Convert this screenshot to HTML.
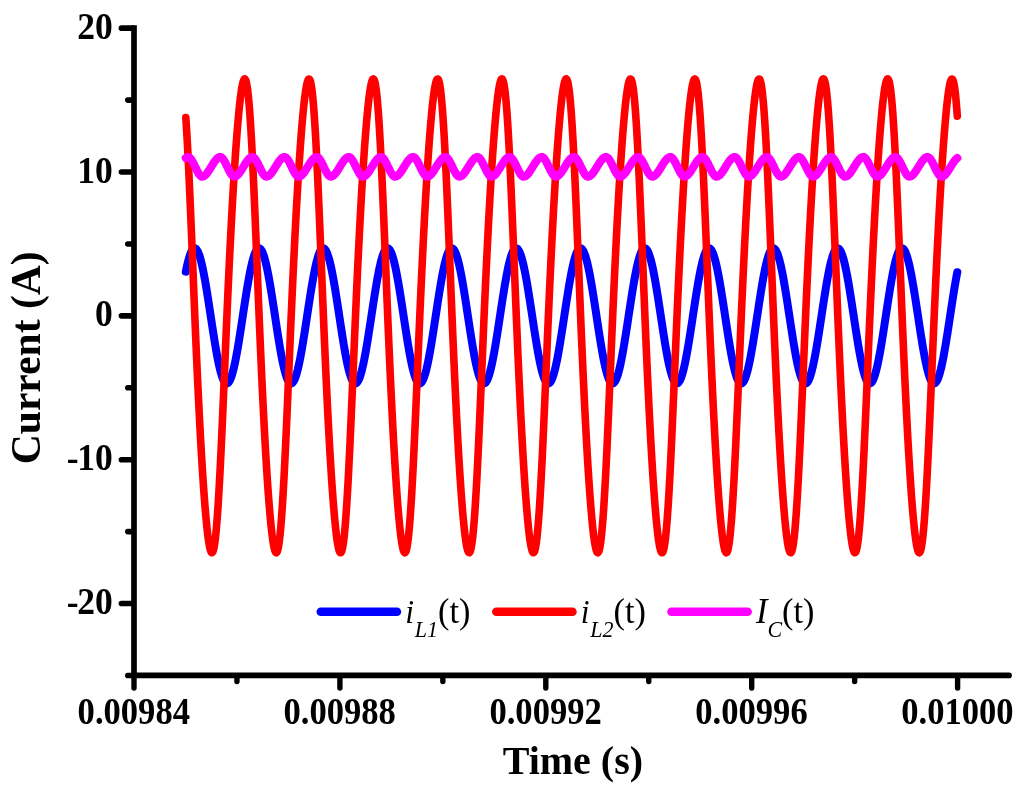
<!DOCTYPE html>
<html lang="en"><head><meta charset="utf-8"><title>Current vs Time</title>
<style>
html,body{margin:0;padding:0;background:#fff;}
body{width:1024px;height:793px;overflow:hidden;}
svg{display:block;will-change:transform;}
text{font-family:"Liberation Serif",serif;fill:#000;}
.tk{font-size:37px;font-weight:bold;}
.ttl{font-size:40px;font-weight:bold;}
.lg{font-size:36px;}
.it{font-style:italic;}
.sub{font-style:italic;font-size:23px;}
</style></head><body>
<svg width="1024" height="793" viewBox="0 0 1024 793">
<rect width="1024" height="793" fill="#fff"/>
<g><path d="M185.8,271.7 L186.3,269.3 L186.8,266.9 L187.3,264.7 L187.8,262.6 L188.3,260.7 L188.8,258.8 L189.3,257.1 L189.8,255.5 L190.3,254.1 L190.8,252.8 L191.3,251.7 L191.8,250.8 L192.3,249.9 L192.8,249.3 L193.3,248.8 L193.8,248.4 L194.3,248.3 L194.8,248.3 L195.3,248.4 L195.8,248.7 L196.3,249.2 L196.8,249.8 L197.3,250.6 L197.8,251.5 L198.3,252.6 L198.8,253.9 L199.3,255.2 L199.8,256.8 L200.3,258.5 L200.8,260.3 L201.3,262.2 L201.8,264.3 L202.3,266.5 L202.8,268.8 L203.3,271.2 L203.8,273.8 L204.3,276.4 L204.8,279.1 L205.3,281.9 L205.8,284.8 L206.3,287.8 L206.8,290.9 L207.3,294.0 L207.8,297.1 L208.3,300.3 L208.8,303.5 L209.3,306.8 L209.8,310.1 L210.3,313.4 L210.8,316.7 L211.3,320.0 L211.8,323.3 L212.3,326.5 L212.8,329.8 L213.3,333.0 L213.8,336.2 L214.3,339.3 L214.8,342.4 L215.3,345.4 L215.8,348.3 L216.3,351.2 L216.8,353.9 L217.3,356.6 L217.8,359.2 L218.3,361.7 L218.8,364.1 L219.3,366.3 L219.8,368.5 L220.3,370.5 L220.8,372.4 L221.3,374.1 L221.8,375.7 L222.3,377.2 L222.8,378.5 L223.3,379.7 L223.8,380.7 L224.3,381.5 L224.8,382.2 L225.3,382.8 L225.8,383.2 L226.3,383.4 L226.8,383.5 L227.3,383.4 L227.8,383.1 L228.3,382.7 L228.8,382.1 L229.3,381.4 L229.8,380.5 L230.3,379.4 L230.8,378.2 L231.3,376.9 L231.8,375.4 L232.3,373.8 L232.8,372.0 L233.3,370.1 L233.8,368.0 L234.3,365.9 L234.8,363.6 L235.3,361.2 L235.8,358.7 L236.3,356.1 L236.8,353.4 L237.3,350.6 L237.8,347.7 L238.3,344.8 L238.8,341.8 L239.3,338.7 L239.8,335.5 L240.3,332.4 L240.8,329.1 L241.3,325.9 L241.8,322.6 L242.3,319.3 L242.8,316.0 L243.3,312.7 L243.8,309.4 L244.3,306.1 L244.8,302.9 L245.3,299.7 L245.8,296.5 L246.3,293.3 L246.8,290.2 L247.3,287.2 L247.8,284.3 L248.3,281.4 L248.8,278.6 L249.3,275.9 L249.8,273.3 L250.3,270.7 L250.8,268.3 L251.3,266.0 L251.8,263.9 L252.3,261.8 L252.8,259.9 L253.3,258.1 L253.8,256.5 L254.3,255.0 L254.8,253.6 L255.3,252.4 L255.8,251.3 L256.3,250.4 L256.8,249.7 L257.3,249.1 L257.8,248.6 L258.3,248.4 L258.8,248.2 L259.3,248.3 L259.8,248.5 L260.3,248.9 L260.8,249.4 L261.3,250.1 L261.8,250.9 L262.3,251.9 L262.8,253.1 L263.3,254.4 L263.8,255.8 L264.3,257.4 L264.8,259.2 L265.3,261.0 L265.8,263.0 L266.3,265.2 L266.8,267.4 L267.3,269.8 L267.8,272.2 L268.3,274.8 L268.8,277.5 L269.3,280.2 L269.8,283.1 L270.3,286.0 L270.8,289.0 L271.3,292.1 L271.8,295.2 L272.3,298.4 L272.8,301.6 L273.3,304.8 L273.8,308.1 L274.3,311.4 L274.8,314.7 L275.3,318.0 L275.8,321.3 L276.3,324.6 L276.8,327.8 L277.3,331.1 L277.8,334.3 L278.3,337.4 L278.8,340.5 L279.3,343.6 L279.8,346.6 L280.3,349.5 L280.8,352.3 L281.3,355.0 L281.8,357.7 L282.3,360.2 L282.8,362.7 L283.3,365.0 L283.8,367.2 L284.3,369.3 L284.8,371.2 L285.3,373.1 L285.8,374.8 L286.3,376.3 L286.8,377.7 L287.3,379.0 L287.8,380.1 L288.3,381.0 L288.8,381.8 L289.3,382.5 L289.8,383.0 L290.3,383.3 L290.8,383.4 L291.3,383.4 L291.8,383.3 L292.3,383.0 L292.8,382.5 L293.3,381.8 L293.8,381.0 L294.3,380.1 L294.8,379.0 L295.3,377.7 L295.8,376.3 L296.3,374.8 L296.8,373.1 L297.3,371.2 L297.8,369.3 L298.3,367.2 L298.8,365.0 L299.3,362.7 L299.8,360.2 L300.3,357.7 L300.8,355.0 L301.3,352.3 L301.8,349.5 L302.3,346.6 L302.8,343.6 L303.3,340.5 L303.8,337.4 L304.3,334.3 L304.8,331.1 L305.3,327.8 L305.8,324.6 L306.3,321.3 L306.8,318.0 L307.3,314.7 L307.8,311.4 L308.3,308.1 L308.8,304.8 L309.3,301.6 L309.8,298.4 L310.3,295.2 L310.8,292.1 L311.3,289.0 L311.8,286.0 L312.3,283.1 L312.8,280.2 L313.3,277.5 L313.8,274.8 L314.3,272.2 L314.8,269.8 L315.3,267.4 L315.8,265.2 L316.3,263.0 L316.8,261.0 L317.3,259.2 L317.8,257.4 L318.3,255.8 L318.8,254.4 L319.3,253.1 L319.8,251.9 L320.3,250.9 L320.8,250.1 L321.3,249.4 L321.8,248.9 L322.3,248.5 L322.8,248.3 L323.3,248.2 L323.8,248.4 L324.3,248.6 L324.8,249.1 L325.3,249.7 L325.8,250.4 L326.3,251.3 L326.8,252.4 L327.3,253.6 L327.8,255.0 L328.3,256.5 L328.8,258.1 L329.3,259.9 L329.8,261.8 L330.3,263.9 L330.8,266.0 L331.3,268.3 L331.8,270.7 L332.3,273.3 L332.8,275.9 L333.3,278.6 L333.8,281.4 L334.3,284.3 L334.8,287.2 L335.3,290.2 L335.8,293.3 L336.3,296.5 L336.8,299.7 L337.3,302.9 L337.8,306.1 L338.3,309.4 L338.8,312.7 L339.3,316.0 L339.8,319.3 L340.3,322.6 L340.8,325.9 L341.3,329.1 L341.8,332.4 L342.3,335.5 L342.8,338.7 L343.3,341.8 L343.8,344.8 L344.3,347.7 L344.8,350.6 L345.3,353.4 L345.8,356.1 L346.3,358.7 L346.8,361.2 L347.3,363.6 L347.8,365.9 L348.3,368.0 L348.8,370.1 L349.3,372.0 L349.8,373.8 L350.3,375.4 L350.8,376.9 L351.3,378.2 L351.8,379.4 L352.3,380.5 L352.8,381.4 L353.3,382.1 L353.8,382.7 L354.3,383.1 L354.8,383.4 L355.3,383.5 L355.8,383.4 L356.3,383.2 L356.8,382.8 L357.3,382.2 L357.8,381.5 L358.3,380.7 L358.8,379.7 L359.3,378.5 L359.8,377.2 L360.3,375.7 L360.8,374.1 L361.3,372.4 L361.8,370.5 L362.3,368.5 L362.8,366.3 L363.3,364.1 L363.8,361.7 L364.3,359.2 L364.8,356.6 L365.3,353.9 L365.8,351.2 L366.3,348.3 L366.8,345.4 L367.3,342.4 L367.8,339.3 L368.3,336.2 L368.8,333.0 L369.3,329.8 L369.8,326.5 L370.3,323.3 L370.8,320.0 L371.3,316.7 L371.8,313.4 L372.3,310.1 L372.8,306.8 L373.3,303.5 L373.8,300.3 L374.3,297.1 L374.8,294.0 L375.3,290.9 L375.8,287.8 L376.3,284.8 L376.8,281.9 L377.3,279.1 L377.8,276.4 L378.3,273.8 L378.8,271.2 L379.3,268.8 L379.8,266.5 L380.3,264.3 L380.8,262.2 L381.3,260.3 L381.8,258.5 L382.3,256.8 L382.8,255.2 L383.3,253.9 L383.8,252.6 L384.3,251.5 L384.8,250.6 L385.3,249.8 L385.8,249.2 L386.3,248.7 L386.8,248.4 L387.3,248.3 L387.8,248.3 L388.3,248.4 L388.8,248.8 L389.3,249.3 L389.8,249.9 L390.3,250.8 L390.8,251.7 L391.3,252.8 L391.8,254.1 L392.3,255.5 L392.8,257.1 L393.3,258.8 L393.8,260.7 L394.3,262.6 L394.8,264.7 L395.3,266.9 L395.8,269.3 L396.3,271.7 L396.8,274.3 L397.3,276.9 L397.8,279.7 L398.3,282.5 L398.8,285.4 L399.3,288.4 L399.8,291.5 L400.3,294.6 L400.8,297.7 L401.3,300.9 L401.8,304.2 L402.3,307.4 L402.8,310.7 L403.3,314.0 L403.8,317.3 L404.3,320.6 L404.8,323.9 L405.3,327.2 L405.8,330.4 L406.3,333.6 L406.8,336.8 L407.3,339.9 L407.8,343.0 L408.3,346.0 L408.8,348.9 L409.3,351.7 L409.8,354.5 L410.3,357.1 L410.8,359.7 L411.3,362.2 L411.8,364.5 L412.3,366.8 L412.8,368.9 L413.3,370.9 L413.8,372.7 L414.3,374.4 L414.8,376.0 L415.3,377.4 L415.8,378.7 L416.3,379.9 L416.8,380.9 L417.3,381.7 L417.8,382.4 L418.3,382.9 L418.8,383.2 L419.3,383.4 L419.8,383.5 L420.3,383.3 L420.8,383.0 L421.3,382.6 L421.8,382.0 L422.3,381.2 L422.8,380.3 L423.3,379.2 L423.8,378.0 L424.3,376.6 L424.8,375.1 L425.3,373.4 L425.8,371.6 L426.3,369.7 L426.8,367.6 L427.3,365.4 L427.8,363.1 L428.3,360.7 L428.8,358.2 L429.3,355.6 L429.8,352.8 L430.3,350.0 L430.8,347.1 L431.3,344.2 L431.8,341.1 L432.3,338.1 L432.8,334.9 L433.3,331.7 L433.8,328.5 L434.3,325.2 L434.8,322.0 L435.3,318.7 L435.8,315.4 L436.3,312.1 L436.8,308.8 L437.3,305.5 L437.8,302.2 L438.3,299.0 L438.8,295.8 L439.3,292.7 L439.8,289.6 L440.3,286.6 L440.8,283.7 L441.3,280.8 L441.8,278.0 L442.3,275.3 L442.8,272.7 L443.3,270.3 L443.8,267.9 L444.3,265.6 L444.8,263.4 L445.3,261.4 L445.8,259.5 L446.3,257.8 L446.8,256.2 L447.3,254.7 L447.8,253.3 L448.3,252.2 L448.8,251.1 L449.3,250.2 L449.8,249.5 L450.3,249.0 L450.8,248.6 L451.3,248.3 L451.8,248.2 L452.3,248.3 L452.8,248.6 L453.3,249.0 L453.8,249.5 L454.3,250.2 L454.8,251.1 L455.3,252.2 L455.8,253.3 L456.3,254.7 L456.8,256.2 L457.3,257.8 L457.8,259.5 L458.3,261.4 L458.8,263.4 L459.3,265.6 L459.8,267.9 L460.3,270.3 L460.8,272.7 L461.3,275.3 L461.8,278.0 L462.3,280.8 L462.8,283.7 L463.3,286.6 L463.8,289.6 L464.3,292.7 L464.8,295.8 L465.3,299.0 L465.8,302.2 L466.3,305.5 L466.8,308.8 L467.3,312.1 L467.8,315.4 L468.3,318.7 L468.8,322.0 L469.3,325.2 L469.8,328.5 L470.3,331.7 L470.8,334.9 L471.3,338.1 L471.8,341.1 L472.3,344.2 L472.8,347.1 L473.3,350.0 L473.8,352.8 L474.3,355.6 L474.8,358.2 L475.3,360.7 L475.8,363.1 L476.3,365.4 L476.8,367.6 L477.3,369.7 L477.8,371.6 L478.3,373.4 L478.8,375.1 L479.3,376.6 L479.8,378.0 L480.3,379.2 L480.8,380.3 L481.3,381.2 L481.8,382.0 L482.3,382.6 L482.8,383.0 L483.3,383.3 L483.8,383.5 L484.3,383.4 L484.8,383.2 L485.3,382.9 L485.8,382.4 L486.3,381.7 L486.8,380.9 L487.3,379.9 L487.8,378.7 L488.3,377.4 L488.8,376.0 L489.3,374.4 L489.8,372.7 L490.3,370.9 L490.8,368.9 L491.3,366.8 L491.8,364.5 L492.3,362.2 L492.8,359.7 L493.3,357.1 L493.8,354.5 L494.3,351.7 L494.8,348.9 L495.3,346.0 L495.8,343.0 L496.3,339.9 L496.8,336.8 L497.3,333.6 L497.8,330.4 L498.3,327.2 L498.8,323.9 L499.3,320.6 L499.8,317.3 L500.3,314.0 L500.8,310.7 L501.3,307.4 L501.8,304.2 L502.3,300.9 L502.8,297.7 L503.3,294.6 L503.8,291.5 L504.3,288.4 L504.8,285.4 L505.3,282.5 L505.8,279.7 L506.3,276.9 L506.8,274.3 L507.3,271.7 L507.8,269.3 L508.3,266.9 L508.8,264.7 L509.3,262.6 L509.8,260.7 L510.3,258.8 L510.8,257.1 L511.3,255.5 L511.8,254.1 L512.3,252.8 L512.8,251.7 L513.3,250.8 L513.8,249.9 L514.3,249.3 L514.8,248.8 L515.3,248.4 L515.8,248.3 L516.3,248.3 L516.8,248.4 L517.3,248.7 L517.8,249.2 L518.3,249.8 L518.8,250.6 L519.3,251.5 L519.8,252.6 L520.3,253.9 L520.8,255.2 L521.3,256.8 L521.8,258.5 L522.3,260.3 L522.8,262.2 L523.3,264.3 L523.8,266.5 L524.3,268.8 L524.8,271.2 L525.3,273.8 L525.8,276.4 L526.3,279.1 L526.8,281.9 L527.3,284.8 L527.8,287.8 L528.3,290.9 L528.8,294.0 L529.3,297.1 L529.8,300.3 L530.3,303.5 L530.8,306.8 L531.3,310.1 L531.8,313.4 L532.3,316.7 L532.8,320.0 L533.3,323.3 L533.8,326.5 L534.3,329.8 L534.8,333.0 L535.3,336.2 L535.8,339.3 L536.3,342.4 L536.8,345.4 L537.3,348.3 L537.8,351.2 L538.3,353.9 L538.8,356.6 L539.3,359.2 L539.8,361.7 L540.3,364.1 L540.8,366.3 L541.3,368.5 L541.8,370.5 L542.3,372.4 L542.8,374.1 L543.3,375.7 L543.8,377.2 L544.3,378.5 L544.8,379.7 L545.3,380.7 L545.8,381.5 L546.3,382.2 L546.8,382.8 L547.3,383.2 L547.8,383.4 L548.3,383.5 L548.8,383.4 L549.3,383.1 L549.8,382.7 L550.3,382.1 L550.8,381.4 L551.3,380.5 L551.8,379.4 L552.3,378.2 L552.8,376.9 L553.3,375.4 L553.8,373.8 L554.3,372.0 L554.8,370.1 L555.3,368.0 L555.8,365.9 L556.3,363.6 L556.8,361.2 L557.3,358.7 L557.8,356.1 L558.3,353.4 L558.8,350.6 L559.3,347.7 L559.8,344.8 L560.3,341.8 L560.8,338.7 L561.3,335.5 L561.8,332.4 L562.3,329.1 L562.8,325.9 L563.3,322.6 L563.8,319.3 L564.3,316.0 L564.8,312.7 L565.3,309.4 L565.8,306.1 L566.3,302.9 L566.8,299.7 L567.3,296.5 L567.8,293.3 L568.3,290.2 L568.8,287.2 L569.3,284.3 L569.8,281.4 L570.3,278.6 L570.8,275.9 L571.3,273.3 L571.8,270.7 L572.3,268.3 L572.8,266.0 L573.3,263.9 L573.8,261.8 L574.3,259.9 L574.8,258.1 L575.3,256.5 L575.8,255.0 L576.3,253.6 L576.8,252.4 L577.3,251.3 L577.8,250.4 L578.3,249.7 L578.8,249.1 L579.3,248.6 L579.8,248.4 L580.3,248.2 L580.8,248.3 L581.3,248.5 L581.8,248.9 L582.3,249.4 L582.8,250.1 L583.3,250.9 L583.8,251.9 L584.3,253.1 L584.8,254.4 L585.3,255.8 L585.8,257.4 L586.3,259.2 L586.8,261.0 L587.3,263.0 L587.8,265.2 L588.3,267.4 L588.8,269.8 L589.3,272.2 L589.8,274.8 L590.3,277.5 L590.8,280.2 L591.3,283.1 L591.8,286.0 L592.3,289.0 L592.8,292.1 L593.3,295.2 L593.8,298.4 L594.3,301.6 L594.8,304.8 L595.3,308.1 L595.8,311.4 L596.3,314.7 L596.8,318.0 L597.3,321.3 L597.8,324.6 L598.3,327.8 L598.8,331.1 L599.3,334.3 L599.8,337.4 L600.3,340.5 L600.8,343.6 L601.3,346.6 L601.8,349.5 L602.3,352.3 L602.8,355.0 L603.3,357.7 L603.8,360.2 L604.3,362.7 L604.8,365.0 L605.3,367.2 L605.8,369.3 L606.3,371.2 L606.8,373.1 L607.3,374.8 L607.8,376.3 L608.3,377.7 L608.8,379.0 L609.3,380.1 L609.8,381.0 L610.3,381.8 L610.8,382.5 L611.3,383.0 L611.8,383.3 L612.3,383.4 L612.8,383.4 L613.3,383.3 L613.8,383.0 L614.3,382.5 L614.8,381.8 L615.3,381.0 L615.8,380.1 L616.3,379.0 L616.8,377.7 L617.3,376.3 L617.8,374.8 L618.3,373.1 L618.8,371.2 L619.3,369.3 L619.8,367.2 L620.3,365.0 L620.8,362.7 L621.3,360.2 L621.8,357.7 L622.3,355.0 L622.8,352.3 L623.3,349.5 L623.8,346.6 L624.3,343.6 L624.8,340.5 L625.3,337.4 L625.8,334.3 L626.3,331.1 L626.8,327.8 L627.3,324.6 L627.8,321.3 L628.3,318.0 L628.8,314.7 L629.3,311.4 L629.8,308.1 L630.3,304.8 L630.8,301.6 L631.3,298.4 L631.8,295.2 L632.3,292.1 L632.8,289.0 L633.3,286.0 L633.8,283.1 L634.3,280.2 L634.8,277.5 L635.3,274.8 L635.8,272.2 L636.3,269.8 L636.8,267.4 L637.3,265.2 L637.8,263.0 L638.3,261.0 L638.8,259.2 L639.3,257.4 L639.8,255.8 L640.3,254.4 L640.8,253.1 L641.3,251.9 L641.8,250.9 L642.3,250.1 L642.8,249.4 L643.3,248.9 L643.8,248.5 L644.3,248.3 L644.8,248.2 L645.3,248.4 L645.8,248.6 L646.3,249.1 L646.8,249.7 L647.3,250.4 L647.8,251.3 L648.3,252.4 L648.8,253.6 L649.3,255.0 L649.8,256.5 L650.3,258.1 L650.8,259.9 L651.3,261.8 L651.8,263.9 L652.3,266.0 L652.8,268.3 L653.3,270.7 L653.8,273.3 L654.3,275.9 L654.8,278.6 L655.3,281.4 L655.8,284.3 L656.3,287.2 L656.8,290.2 L657.3,293.3 L657.8,296.5 L658.3,299.7 L658.8,302.9 L659.3,306.1 L659.8,309.4 L660.3,312.7 L660.8,316.0 L661.3,319.3 L661.8,322.6 L662.3,325.9 L662.8,329.1 L663.3,332.4 L663.8,335.5 L664.3,338.7 L664.8,341.8 L665.3,344.8 L665.8,347.7 L666.3,350.6 L666.8,353.4 L667.3,356.1 L667.8,358.7 L668.3,361.2 L668.8,363.6 L669.3,365.9 L669.8,368.0 L670.3,370.1 L670.8,372.0 L671.3,373.8 L671.8,375.4 L672.3,376.9 L672.8,378.2 L673.3,379.4 L673.8,380.5 L674.3,381.4 L674.8,382.1 L675.3,382.7 L675.8,383.1 L676.3,383.4 L676.8,383.5 L677.3,383.4 L677.8,383.2 L678.3,382.8 L678.8,382.2 L679.3,381.5 L679.8,380.7 L680.3,379.7 L680.8,378.5 L681.3,377.2 L681.8,375.7 L682.3,374.1 L682.8,372.4 L683.3,370.5 L683.8,368.5 L684.3,366.3 L684.8,364.1 L685.3,361.7 L685.8,359.2 L686.3,356.6 L686.8,353.9 L687.3,351.2 L687.8,348.3 L688.3,345.4 L688.8,342.4 L689.3,339.3 L689.8,336.2 L690.3,333.0 L690.8,329.8 L691.3,326.5 L691.8,323.3 L692.3,320.0 L692.8,316.7 L693.3,313.4 L693.8,310.1 L694.3,306.8 L694.8,303.5 L695.3,300.3 L695.8,297.1 L696.3,294.0 L696.8,290.9 L697.3,287.8 L697.8,284.8 L698.3,281.9 L698.8,279.1 L699.3,276.4 L699.8,273.8 L700.3,271.2 L700.8,268.8 L701.3,266.5 L701.8,264.3 L702.3,262.2 L702.8,260.3 L703.3,258.5 L703.8,256.8 L704.3,255.2 L704.8,253.9 L705.3,252.6 L705.8,251.5 L706.3,250.6 L706.8,249.8 L707.3,249.2 L707.8,248.7 L708.3,248.4 L708.8,248.3 L709.3,248.3 L709.8,248.4 L710.3,248.8 L710.8,249.3 L711.3,249.9 L711.8,250.8 L712.3,251.7 L712.8,252.8 L713.3,254.1 L713.8,255.5 L714.3,257.1 L714.8,258.8 L715.3,260.7 L715.8,262.6 L716.3,264.7 L716.8,266.9 L717.3,269.3 L717.8,271.7 L718.3,274.3 L718.8,276.9 L719.3,279.7 L719.8,282.5 L720.3,285.4 L720.8,288.4 L721.3,291.5 L721.8,294.6 L722.3,297.7 L722.8,300.9 L723.3,304.2 L723.8,307.4 L724.3,310.7 L724.8,314.0 L725.3,317.3 L725.8,320.6 L726.3,323.9 L726.8,327.2 L727.3,330.4 L727.8,333.6 L728.3,336.8 L728.8,339.9 L729.3,343.0 L729.8,346.0 L730.3,348.9 L730.8,351.7 L731.3,354.5 L731.8,357.1 L732.3,359.7 L732.8,362.2 L733.3,364.5 L733.8,366.8 L734.3,368.9 L734.8,370.9 L735.3,372.7 L735.8,374.4 L736.3,376.0 L736.8,377.4 L737.3,378.7 L737.8,379.9 L738.3,380.9 L738.8,381.7 L739.3,382.4 L739.8,382.9 L740.3,383.2 L740.8,383.4 L741.3,383.5 L741.8,383.3 L742.3,383.0 L742.8,382.6 L743.3,382.0 L743.8,381.2 L744.3,380.3 L744.8,379.2 L745.3,378.0 L745.8,376.6 L746.3,375.1 L746.8,373.4 L747.3,371.6 L747.8,369.7 L748.3,367.6 L748.8,365.4 L749.3,363.1 L749.8,360.7 L750.3,358.2 L750.8,355.6 L751.3,352.8 L751.8,350.0 L752.3,347.1 L752.8,344.2 L753.3,341.1 L753.8,338.1 L754.3,334.9 L754.8,331.7 L755.3,328.5 L755.8,325.2 L756.3,322.0 L756.8,318.7 L757.3,315.4 L757.8,312.1 L758.3,308.8 L758.8,305.5 L759.3,302.2 L759.8,299.0 L760.3,295.8 L760.8,292.7 L761.3,289.6 L761.8,286.6 L762.3,283.7 L762.8,280.8 L763.3,278.0 L763.8,275.3 L764.3,272.7 L764.8,270.3 L765.3,267.9 L765.8,265.6 L766.3,263.4 L766.8,261.4 L767.3,259.5 L767.8,257.8 L768.3,256.2 L768.8,254.7 L769.3,253.3 L769.8,252.2 L770.3,251.1 L770.8,250.2 L771.3,249.5 L771.8,249.0 L772.3,248.6 L772.8,248.3 L773.3,248.2 L773.8,248.3 L774.3,248.6 L774.8,249.0 L775.3,249.5 L775.8,250.2 L776.3,251.1 L776.8,252.2 L777.3,253.3 L777.8,254.7 L778.3,256.2 L778.8,257.8 L779.3,259.5 L779.8,261.4 L780.3,263.4 L780.8,265.6 L781.3,267.9 L781.8,270.3 L782.3,272.7 L782.8,275.3 L783.3,278.0 L783.8,280.8 L784.3,283.7 L784.8,286.6 L785.3,289.6 L785.8,292.7 L786.3,295.8 L786.8,299.0 L787.3,302.2 L787.8,305.5 L788.3,308.8 L788.8,312.1 L789.3,315.4 L789.8,318.7 L790.3,322.0 L790.8,325.2 L791.3,328.5 L791.8,331.7 L792.3,334.9 L792.8,338.1 L793.3,341.1 L793.8,344.2 L794.3,347.1 L794.8,350.0 L795.3,352.8 L795.8,355.6 L796.3,358.2 L796.8,360.7 L797.3,363.1 L797.8,365.4 L798.3,367.6 L798.8,369.7 L799.3,371.6 L799.8,373.4 L800.3,375.1 L800.8,376.6 L801.3,378.0 L801.8,379.2 L802.3,380.3 L802.8,381.2 L803.3,382.0 L803.8,382.6 L804.3,383.0 L804.8,383.3 L805.3,383.5 L805.8,383.4 L806.3,383.2 L806.8,382.9 L807.3,382.4 L807.8,381.7 L808.3,380.9 L808.8,379.9 L809.3,378.7 L809.8,377.4 L810.3,376.0 L810.8,374.4 L811.3,372.7 L811.8,370.9 L812.3,368.9 L812.8,366.8 L813.3,364.5 L813.8,362.2 L814.3,359.7 L814.8,357.1 L815.3,354.5 L815.8,351.7 L816.3,348.9 L816.8,346.0 L817.3,343.0 L817.8,339.9 L818.3,336.8 L818.8,333.6 L819.3,330.4 L819.8,327.2 L820.3,323.9 L820.8,320.6 L821.3,317.3 L821.8,314.0 L822.3,310.7 L822.8,307.4 L823.3,304.2 L823.8,300.9 L824.3,297.7 L824.8,294.6 L825.3,291.5 L825.8,288.4 L826.3,285.4 L826.8,282.5 L827.3,279.7 L827.8,276.9 L828.3,274.3 L828.8,271.7 L829.3,269.3 L829.8,266.9 L830.3,264.7 L830.8,262.6 L831.3,260.7 L831.8,258.8 L832.3,257.1 L832.8,255.5 L833.3,254.1 L833.8,252.8 L834.3,251.7 L834.8,250.8 L835.3,249.9 L835.8,249.3 L836.3,248.8 L836.8,248.4 L837.3,248.3 L837.8,248.3 L838.3,248.4 L838.8,248.7 L839.3,249.2 L839.8,249.8 L840.3,250.6 L840.8,251.5 L841.3,252.6 L841.8,253.9 L842.3,255.2 L842.8,256.8 L843.3,258.5 L843.8,260.3 L844.3,262.2 L844.8,264.3 L845.3,266.5 L845.8,268.8 L846.3,271.2 L846.8,273.8 L847.3,276.4 L847.8,279.1 L848.3,281.9 L848.8,284.8 L849.3,287.8 L849.8,290.9 L850.3,294.0 L850.8,297.1 L851.3,300.3 L851.8,303.5 L852.3,306.8 L852.8,310.1 L853.3,313.4 L853.8,316.7 L854.3,320.0 L854.8,323.3 L855.3,326.5 L855.8,329.8 L856.3,333.0 L856.8,336.2 L857.3,339.3 L857.8,342.4 L858.3,345.4 L858.8,348.3 L859.3,351.2 L859.8,353.9 L860.3,356.6 L860.8,359.2 L861.3,361.7 L861.8,364.1 L862.3,366.3 L862.8,368.5 L863.3,370.5 L863.8,372.4 L864.3,374.1 L864.8,375.7 L865.3,377.2 L865.8,378.5 L866.3,379.7 L866.8,380.7 L867.3,381.5 L867.8,382.2 L868.3,382.8 L868.8,383.2 L869.3,383.4 L869.8,383.5 L870.3,383.4 L870.8,383.1 L871.3,382.7 L871.8,382.1 L872.3,381.4 L872.8,380.5 L873.3,379.4 L873.8,378.2 L874.3,376.9 L874.8,375.4 L875.3,373.8 L875.8,372.0 L876.3,370.1 L876.8,368.0 L877.3,365.9 L877.8,363.6 L878.3,361.2 L878.8,358.7 L879.3,356.1 L879.8,353.4 L880.3,350.6 L880.8,347.7 L881.3,344.8 L881.8,341.8 L882.3,338.7 L882.8,335.5 L883.3,332.4 L883.8,329.1 L884.3,325.9 L884.8,322.6 L885.3,319.3 L885.8,316.0 L886.3,312.7 L886.8,309.4 L887.3,306.1 L887.8,302.9 L888.3,299.7 L888.8,296.5 L889.3,293.3 L889.8,290.2 L890.3,287.2 L890.8,284.3 L891.3,281.4 L891.8,278.6 L892.3,275.9 L892.8,273.3 L893.3,270.7 L893.8,268.3 L894.3,266.0 L894.8,263.9 L895.3,261.8 L895.8,259.9 L896.3,258.1 L896.8,256.5 L897.3,255.0 L897.8,253.6 L898.3,252.4 L898.8,251.3 L899.3,250.4 L899.8,249.7 L900.3,249.1 L900.8,248.6 L901.3,248.4 L901.8,248.2 L902.3,248.3 L902.8,248.5 L903.3,248.9 L903.8,249.4 L904.3,250.1 L904.8,250.9 L905.3,251.9 L905.8,253.1 L906.3,254.4 L906.8,255.8 L907.3,257.4 L907.8,259.2 L908.3,261.0 L908.8,263.0 L909.3,265.2 L909.8,267.4 L910.3,269.8 L910.8,272.2 L911.3,274.8 L911.8,277.5 L912.3,280.2 L912.8,283.1 L913.3,286.0 L913.8,289.0 L914.3,292.1 L914.8,295.2 L915.3,298.4 L915.8,301.6 L916.3,304.8 L916.8,308.1 L917.3,311.4 L917.8,314.7 L918.3,318.0 L918.8,321.3 L919.3,324.6 L919.8,327.8 L920.3,331.1 L920.8,334.3 L921.3,337.4 L921.8,340.5 L922.3,343.6 L922.8,346.6 L923.3,349.5 L923.8,352.3 L924.3,355.0 L924.8,357.7 L925.3,360.2 L925.8,362.7 L926.3,365.0 L926.8,367.2 L927.3,369.3 L927.8,371.2 L928.3,373.1 L928.8,374.8 L929.3,376.3 L929.8,377.7 L930.3,379.0 L930.8,380.1 L931.3,381.0 L931.8,381.8 L932.3,382.5 L932.8,383.0 L933.3,383.3 L933.8,383.4 L934.3,383.4 L934.8,383.3 L935.3,383.0 L935.8,382.5 L936.3,381.8 L936.8,381.0 L937.3,380.1 L937.8,379.0 L938.3,377.7 L938.8,376.3 L939.3,374.8 L939.8,373.1 L940.3,371.2 L940.8,369.3 L941.3,367.2 L941.8,365.0 L942.3,362.7 L942.8,360.2 L943.3,357.7 L943.8,355.0 L944.3,352.3 L944.8,349.5 L945.3,346.6 L945.8,343.6 L946.3,340.5 L946.8,337.4 L947.3,334.3 L947.8,331.1 L948.3,327.8 L948.8,324.6 L949.3,321.3 L949.8,318.0 L950.3,314.7 L950.8,311.4 L951.3,308.1 L951.8,304.8 L952.3,301.6 L952.8,298.4 L953.3,295.2 L953.8,292.1 L954.3,289.0 L954.8,286.0 L955.3,283.1 L955.8,280.2 L956.3,277.5 L956.8,274.8 L957.3,272.2" fill="none" stroke="#0000ff" stroke-width="8.0" stroke-linecap="round" stroke-linejoin="round"/><path d="M185.8,117.5 L186.3,125.1 L186.8,133.3 L187.3,142.1 L187.8,151.5 L188.3,161.4 L188.8,171.8 L189.3,182.7 L189.8,193.9 L190.3,205.5 L190.8,217.3 L191.3,229.4 L191.8,241.7 L192.3,254.1 L192.8,266.5 L193.3,279.0 L193.8,291.4 L194.3,303.7 L194.8,315.9 L195.3,327.8 L195.8,339.6 L196.3,351.1 L196.8,362.4 L197.3,373.5 L197.8,384.3 L198.3,394.8 L198.8,405.0 L199.3,414.9 L199.8,424.6 L200.3,433.9 L200.8,443.0 L201.3,451.7 L201.8,460.1 L202.3,468.2 L202.8,476.0 L203.3,483.5 L203.8,490.6 L204.3,497.4 L204.8,503.9 L205.3,510.0 L205.8,515.8 L206.3,521.2 L206.8,526.2 L207.3,530.8 L207.8,535.1 L208.3,538.9 L208.8,542.3 L209.3,545.3 L209.8,547.8 L210.3,549.8 L210.8,551.3 L211.3,552.3 L211.8,552.7 L212.3,552.6 L212.8,551.9 L213.3,550.6 L213.8,548.6 L214.3,546.0 L214.8,542.8 L215.3,538.9 L215.8,534.3 L216.3,529.1 L216.8,523.2 L217.3,516.8 L217.8,509.7 L218.3,502.0 L218.8,493.7 L219.3,485.0 L219.8,475.7 L220.3,466.0 L220.8,455.8 L221.3,445.3 L221.8,434.4 L222.3,423.3 L222.8,411.9 L223.3,400.3 L223.8,388.6 L224.3,376.8 L224.8,365.0 L225.3,353.2 L225.8,341.4 L226.3,329.7 L226.8,318.1 L227.3,306.8 L227.8,295.6 L228.3,284.6 L228.8,273.9 L229.3,263.4 L229.8,253.1 L230.3,243.1 L230.8,233.3 L231.3,223.7 L231.8,214.5 L232.3,205.4 L232.8,196.7 L233.3,188.2 L233.8,179.9 L234.3,171.9 L234.8,164.2 L235.3,156.8 L235.8,149.6 L236.3,142.7 L236.8,136.1 L237.3,129.8 L237.8,123.8 L238.3,118.1 L238.8,112.7 L239.3,107.7 L239.8,103.0 L240.3,98.6 L240.8,94.7 L241.3,91.1 L241.8,87.9 L242.3,85.2 L242.8,82.9 L243.3,81.1 L243.8,79.9 L244.3,79.1 L244.8,78.9 L245.3,79.4 L245.8,80.4 L246.3,82.1 L246.8,84.5 L247.3,87.5 L247.8,91.3 L248.3,95.7 L248.8,100.9 L249.3,106.7 L249.8,113.3 L250.3,120.5 L250.8,128.3 L251.3,136.8 L251.8,145.8 L252.3,155.4 L252.8,165.5 L253.3,176.1 L253.8,187.1 L254.3,198.5 L254.8,210.2 L255.3,222.1 L255.8,234.3 L256.3,246.6 L256.8,259.0 L257.3,271.5 L257.8,283.9 L258.3,296.3 L258.8,308.6 L259.3,320.7 L259.8,332.6 L260.3,344.2 L260.8,355.7 L261.3,366.9 L261.8,377.8 L262.3,388.5 L262.8,398.9 L263.3,409.0 L263.8,418.8 L264.3,428.3 L264.8,437.6 L265.3,446.5 L265.8,455.1 L266.3,463.4 L266.8,471.4 L267.3,479.0 L267.8,486.4 L268.3,493.4 L268.8,500.0 L269.3,506.4 L269.8,512.3 L270.3,518.0 L270.8,523.2 L271.3,528.1 L271.8,532.6 L272.3,536.6 L272.8,540.3 L273.3,543.5 L273.8,546.3 L274.3,548.6 L274.8,550.4 L275.3,551.8 L275.8,552.5 L276.3,552.8 L276.8,552.4 L277.3,551.5 L277.8,549.9 L278.3,547.7 L278.8,544.8 L279.3,541.3 L279.8,537.1 L280.3,532.3 L280.8,526.8 L281.3,520.7 L281.8,514.0 L282.3,506.7 L282.8,498.7 L283.3,490.3 L283.8,481.3 L284.3,471.9 L284.8,461.9 L285.3,451.6 L285.8,441.0 L286.3,430.0 L286.8,418.8 L287.3,407.3 L287.8,395.7 L288.3,383.9 L288.8,372.1 L289.3,360.3 L289.8,348.4 L290.3,336.7 L290.8,325.0 L291.3,313.6 L291.8,302.3 L292.3,291.2 L292.8,280.3 L293.3,269.7 L293.8,259.2 L294.3,249.1 L294.8,239.1 L295.3,229.4 L295.8,220.0 L296.3,210.8 L296.8,201.9 L297.3,193.2 L297.8,184.8 L298.3,176.7 L298.8,168.8 L299.3,161.2 L299.8,153.9 L300.3,146.8 L300.8,140.0 L301.3,133.6 L301.8,127.4 L302.3,121.5 L302.8,115.9 L303.3,110.7 L303.8,105.7 L304.3,101.2 L304.8,97.0 L305.3,93.2 L305.8,89.8 L306.3,86.8 L306.8,84.2 L307.3,82.1 L307.8,80.6 L308.3,79.5 L308.8,79.0 L309.3,79.0 L309.8,79.7 L310.3,81.0 L310.8,83.0 L311.3,85.6 L311.8,88.9 L312.3,93.0 L312.8,97.7 L313.3,103.1 L313.8,109.3 L314.3,116.1 L314.8,123.5 L315.3,131.6 L315.8,140.3 L316.3,149.6 L316.8,159.4 L317.3,169.7 L317.8,180.5 L318.3,191.6 L318.8,203.1 L319.3,214.9 L319.8,227.0 L320.3,239.2 L320.8,251.6 L321.3,264.0 L321.8,276.5 L322.3,288.9 L322.8,301.2 L323.3,313.4 L323.8,325.5 L324.3,337.3 L324.8,348.9 L325.3,360.2 L325.8,371.3 L326.3,382.1 L326.8,392.7 L327.3,403.0 L327.8,413.0 L328.3,422.7 L328.8,432.1 L329.3,441.2 L329.8,450.0 L330.3,458.4 L330.8,466.6 L331.3,474.5 L331.8,482.0 L332.3,489.2 L332.8,496.1 L333.3,502.6 L333.8,508.8 L334.3,514.6 L334.8,520.1 L335.3,525.2 L335.8,529.9 L336.3,534.2 L336.8,538.2 L337.3,541.7 L337.8,544.7 L338.3,547.3 L338.8,549.4 L339.3,551.0 L339.8,552.1 L340.3,552.7 L340.8,552.7 L341.3,552.1 L341.8,550.9 L342.3,549.1 L342.8,546.6 L343.3,543.5 L343.8,539.7 L344.3,535.3 L344.8,530.2 L345.3,524.5 L345.8,518.1 L346.3,511.1 L346.8,503.6 L347.3,495.4 L347.8,486.8 L348.3,477.6 L348.8,467.9 L349.3,457.9 L349.8,447.4 L350.3,436.6 L350.8,425.5 L351.3,414.2 L351.8,402.7 L352.3,391.0 L352.8,379.2 L353.3,367.4 L353.8,355.5 L354.3,343.7 L354.8,332.0 L355.3,320.4 L355.8,309.0 L356.3,297.8 L356.8,286.8 L357.3,276.0 L357.8,265.5 L358.3,255.1 L358.8,245.1 L359.3,235.2 L359.8,225.6 L360.3,216.3 L360.8,207.2 L361.3,198.4 L361.8,189.8 L362.3,181.5 L362.8,173.5 L363.3,165.7 L363.8,158.2 L364.3,151.0 L364.8,144.1 L365.3,137.4 L365.8,131.0 L366.3,125.0 L366.8,119.2 L367.3,113.8 L367.8,108.6 L368.3,103.9 L368.8,99.5 L369.3,95.4 L369.8,91.8 L370.3,88.5 L370.8,85.7 L371.3,83.3 L371.8,81.5 L372.3,80.1 L372.8,79.2 L373.3,78.9 L373.8,79.2 L374.3,80.2 L374.8,81.7 L375.3,83.9 L375.8,86.9 L376.3,90.5 L376.8,94.8 L377.3,99.8 L377.8,105.5 L378.3,111.9 L378.8,119.0 L379.3,126.7 L379.8,135.0 L380.3,144.0 L380.8,153.5 L381.3,163.5 L381.8,174.0 L382.3,184.9 L382.8,196.2 L383.3,207.8 L383.8,219.7 L384.3,231.8 L384.8,244.1 L385.3,256.5 L385.8,269.0 L386.3,281.4 L386.8,293.8 L387.3,306.1 L387.8,318.3 L388.3,330.2 L388.8,341.9 L389.3,353.4 L389.8,364.7 L390.3,375.7 L390.8,386.4 L391.3,396.8 L391.8,407.0 L392.3,416.9 L392.8,426.5 L393.3,435.7 L393.8,444.7 L394.3,453.4 L394.8,461.8 L395.3,469.8 L395.8,477.5 L396.3,484.9 L396.8,492.0 L397.3,498.7 L397.8,505.1 L398.3,511.2 L398.8,516.9 L399.3,522.2 L399.8,527.1 L400.3,531.7 L400.8,535.9 L401.3,539.6 L401.8,542.9 L402.3,545.8 L402.8,548.2 L403.3,550.1 L403.8,551.5 L404.3,552.4 L404.8,552.8 L405.3,552.5 L405.8,551.7 L406.3,550.3 L406.8,548.2 L407.3,545.4 L407.8,542.1 L408.3,538.0 L408.8,533.3 L409.3,528.0 L409.8,522.0 L410.3,515.4 L410.8,508.2 L411.3,500.4 L411.8,492.0 L412.3,483.1 L412.8,473.8 L413.3,464.0 L413.8,453.7 L414.3,443.1 L414.8,432.2 L415.3,421.0 L415.8,409.6 L416.3,398.0 L416.8,386.3 L417.3,374.5 L417.8,362.6 L418.3,350.8 L418.8,339.0 L419.3,327.4 L419.8,315.8 L420.3,304.5 L420.8,293.4 L421.3,282.5 L421.8,271.8 L422.3,261.3 L422.8,251.1 L423.3,241.1 L423.8,231.4 L424.3,221.9 L424.8,212.6 L425.3,203.7 L425.8,194.9 L426.3,186.5 L426.8,178.3 L427.3,170.4 L427.8,162.7 L428.3,155.3 L428.8,148.2 L429.3,141.4 L429.8,134.8 L430.3,128.6 L430.8,122.6 L431.3,117.0 L431.8,111.7 L432.3,106.7 L432.8,102.1 L433.3,97.8 L433.8,93.9 L434.3,90.4 L434.8,87.3 L435.3,84.7 L435.8,82.5 L436.3,80.8 L436.8,79.7 L437.3,79.0 L437.8,79.0 L438.3,79.5 L438.8,80.7 L439.3,82.5 L439.8,85.0 L440.3,88.2 L440.8,92.1 L441.3,96.7 L441.8,102.0 L442.3,108.0 L442.8,114.6 L443.3,122.0 L443.8,129.9 L444.3,138.5 L444.8,147.7 L445.3,157.4 L445.8,167.6 L446.3,178.3 L446.8,189.4 L447.3,200.8 L447.8,212.5 L448.3,224.5 L448.8,236.7 L449.3,249.1 L449.8,261.5 L450.3,274.0 L450.8,286.4 L451.3,298.8 L451.8,311.0 L452.3,323.1 L452.8,334.9 L453.3,346.6 L453.8,358.0 L454.3,369.1 L454.8,380.0 L455.3,390.6 L455.8,400.9 L456.3,411.0 L456.8,420.7 L457.3,430.2 L457.8,439.4 L458.3,448.2 L458.8,456.8 L459.3,465.0 L459.8,472.9 L460.3,480.5 L460.8,487.8 L461.3,494.7 L461.8,501.3 L462.3,507.6 L462.8,513.5 L463.3,519.0 L463.8,524.2 L464.3,529.0 L464.8,533.4 L465.3,537.4 L465.8,541.0 L466.3,544.1 L466.8,546.8 L467.3,549.0 L467.8,550.7 L468.3,552.0 L468.8,552.6 L469.3,552.7 L469.8,552.3 L470.3,551.2 L470.8,549.5 L471.3,547.2 L471.8,544.2 L472.3,540.5 L472.8,536.2 L473.3,531.3 L473.8,525.7 L474.3,519.4 L474.8,512.6 L475.3,505.1 L475.8,497.1 L476.3,488.5 L476.8,479.5 L477.3,469.9 L477.8,459.9 L478.3,449.5 L478.8,438.8 L479.3,427.8 L479.8,416.5 L480.3,405.0 L480.8,393.3 L481.3,381.6 L481.8,369.7 L482.3,357.9 L482.8,346.1 L483.3,334.3 L483.8,322.7 L484.3,311.3 L484.8,300.0 L485.3,289.0 L485.8,278.2 L486.3,267.6 L486.8,257.2 L487.3,247.1 L487.8,237.2 L488.3,227.5 L488.8,218.1 L489.3,209.0 L489.8,200.1 L490.3,191.5 L490.8,183.2 L491.3,175.1 L491.8,167.3 L492.3,159.7 L492.8,152.4 L493.3,145.4 L493.8,138.7 L494.3,132.3 L494.8,126.2 L495.3,120.3 L495.8,114.8 L496.3,109.6 L496.8,104.8 L497.3,100.3 L497.8,96.2 L498.3,92.5 L498.8,89.1 L499.3,86.2 L499.8,83.8 L500.3,81.8 L500.8,80.3 L501.3,79.3 L501.8,78.9 L502.3,79.1 L502.8,79.9 L503.3,81.4 L503.8,83.4 L504.3,86.2 L504.8,89.7 L505.3,93.9 L505.8,98.7 L506.3,104.3 L506.8,110.6 L507.3,117.5 L507.8,125.1 L508.3,133.3 L508.8,142.1 L509.3,151.5 L509.8,161.4 L510.3,171.8 L510.8,182.7 L511.3,193.9 L511.8,205.5 L512.3,217.3 L512.8,229.4 L513.3,241.7 L513.8,254.1 L514.3,266.5 L514.8,279.0 L515.3,291.4 L515.8,303.7 L516.3,315.8 L516.8,327.8 L517.3,339.6 L517.8,351.1 L518.3,362.4 L518.8,373.5 L519.3,384.3 L519.8,394.8 L520.3,405.0 L520.8,414.9 L521.3,424.6 L521.8,433.9 L522.3,443.0 L522.8,451.7 L523.3,460.1 L523.8,468.2 L524.3,476.0 L524.8,483.5 L525.3,490.6 L525.8,497.4 L526.3,503.9 L526.8,510.0 L527.3,515.8 L527.8,521.2 L528.3,526.2 L528.8,530.8 L529.3,535.1 L529.8,538.9 L530.3,542.3 L530.8,545.3 L531.3,547.8 L531.8,549.8 L532.3,551.3 L532.8,552.3 L533.3,552.7 L533.8,552.6 L534.3,551.9 L534.8,550.6 L535.3,548.6 L535.8,546.0 L536.3,542.8 L536.8,538.9 L537.3,534.3 L537.8,529.1 L538.3,523.2 L538.8,516.8 L539.3,509.7 L539.8,502.0 L540.3,493.7 L540.8,485.0 L541.3,475.7 L541.8,466.0 L542.3,455.8 L542.8,445.3 L543.3,434.4 L543.8,423.3 L544.3,411.9 L544.8,400.3 L545.3,388.6 L545.8,376.8 L546.3,365.0 L546.8,353.2 L547.3,341.4 L547.8,329.7 L548.3,318.1 L548.8,306.8 L549.3,295.6 L549.8,284.6 L550.3,273.9 L550.8,263.4 L551.3,253.1 L551.8,243.1 L552.3,233.3 L552.8,223.7 L553.3,214.5 L553.8,205.4 L554.3,196.7 L554.8,188.2 L555.3,179.9 L555.8,171.9 L556.3,164.2 L556.8,156.8 L557.3,149.6 L557.8,142.7 L558.3,136.1 L558.8,129.8 L559.3,123.8 L559.8,118.1 L560.3,112.7 L560.8,107.7 L561.3,103.0 L561.8,98.6 L562.3,94.7 L562.8,91.1 L563.3,87.9 L563.8,85.2 L564.3,82.9 L564.8,81.1 L565.3,79.9 L565.8,79.1 L566.3,78.9 L566.8,79.4 L567.3,80.4 L567.8,82.1 L568.3,84.5 L568.8,87.5 L569.3,91.3 L569.8,95.7 L570.3,100.9 L570.8,106.7 L571.3,113.3 L571.8,120.5 L572.3,128.3 L572.8,136.8 L573.3,145.8 L573.8,155.4 L574.3,165.5 L574.8,176.1 L575.3,187.1 L575.8,198.5 L576.3,210.2 L576.8,222.1 L577.3,234.3 L577.8,246.6 L578.3,259.0 L578.8,271.5 L579.3,283.9 L579.8,296.3 L580.3,308.6 L580.8,320.7 L581.3,332.6 L581.8,344.2 L582.3,355.7 L582.8,366.9 L583.3,377.8 L583.8,388.5 L584.3,398.9 L584.8,409.0 L585.3,418.8 L585.8,428.3 L586.3,437.6 L586.8,446.5 L587.3,455.1 L587.8,463.4 L588.3,471.4 L588.8,479.0 L589.3,486.4 L589.8,493.4 L590.3,500.0 L590.8,506.4 L591.3,512.3 L591.8,518.0 L592.3,523.2 L592.8,528.1 L593.3,532.6 L593.8,536.6 L594.3,540.3 L594.8,543.5 L595.3,546.3 L595.8,548.6 L596.3,550.4 L596.8,551.8 L597.3,552.5 L597.8,552.8 L598.3,552.4 L598.8,551.5 L599.3,549.9 L599.8,547.7 L600.3,544.8 L600.8,541.3 L601.3,537.1 L601.8,532.3 L602.3,526.8 L602.8,520.7 L603.3,514.0 L603.8,506.7 L604.3,498.7 L604.8,490.3 L605.3,481.3 L605.8,471.9 L606.3,461.9 L606.8,451.6 L607.3,441.0 L607.8,430.0 L608.3,418.8 L608.8,407.3 L609.3,395.7 L609.8,383.9 L610.3,372.1 L610.8,360.3 L611.3,348.4 L611.8,336.7 L612.3,325.0 L612.8,313.6 L613.3,302.3 L613.8,291.2 L614.3,280.3 L614.8,269.7 L615.3,259.2 L615.8,249.1 L616.3,239.1 L616.8,229.4 L617.3,220.0 L617.8,210.8 L618.3,201.9 L618.8,193.2 L619.3,184.8 L619.8,176.7 L620.3,168.8 L620.8,161.2 L621.3,153.9 L621.8,146.8 L622.3,140.0 L622.8,133.6 L623.3,127.4 L623.8,121.5 L624.3,115.9 L624.8,110.7 L625.3,105.7 L625.8,101.2 L626.3,97.0 L626.8,93.2 L627.3,89.8 L627.8,86.8 L628.3,84.2 L628.8,82.1 L629.3,80.6 L629.8,79.5 L630.3,79.0 L630.8,79.0 L631.3,79.7 L631.8,81.0 L632.3,83.0 L632.8,85.6 L633.3,88.9 L633.8,93.0 L634.3,97.7 L634.8,103.1 L635.3,109.3 L635.8,116.1 L636.3,123.5 L636.8,131.6 L637.3,140.3 L637.8,149.6 L638.3,159.4 L638.8,169.7 L639.3,180.5 L639.8,191.6 L640.3,203.1 L640.8,214.9 L641.3,227.0 L641.8,239.2 L642.3,251.6 L642.8,264.0 L643.3,276.5 L643.8,288.9 L644.3,301.2 L644.8,313.4 L645.3,325.5 L645.8,337.3 L646.3,348.9 L646.8,360.2 L647.3,371.3 L647.8,382.1 L648.3,392.7 L648.8,403.0 L649.3,413.0 L649.8,422.7 L650.3,432.1 L650.8,441.2 L651.3,450.0 L651.8,458.4 L652.3,466.6 L652.8,474.5 L653.3,482.0 L653.8,489.2 L654.3,496.1 L654.8,502.6 L655.3,508.8 L655.8,514.6 L656.3,520.1 L656.8,525.2 L657.3,529.9 L657.8,534.2 L658.3,538.2 L658.8,541.7 L659.3,544.7 L659.8,547.3 L660.3,549.4 L660.8,551.0 L661.3,552.1 L661.8,552.7 L662.3,552.7 L662.8,552.1 L663.3,550.9 L663.8,549.1 L664.3,546.6 L664.8,543.5 L665.3,539.7 L665.8,535.3 L666.3,530.2 L666.8,524.5 L667.3,518.1 L667.8,511.1 L668.3,503.6 L668.8,495.4 L669.3,486.8 L669.8,477.6 L670.3,467.9 L670.8,457.9 L671.3,447.4 L671.8,436.6 L672.3,425.5 L672.8,414.2 L673.3,402.7 L673.8,391.0 L674.3,379.2 L674.8,367.4 L675.3,355.5 L675.8,343.7 L676.3,332.0 L676.8,320.4 L677.3,309.0 L677.8,297.8 L678.3,286.8 L678.8,276.0 L679.3,265.5 L679.8,255.1 L680.3,245.1 L680.8,235.2 L681.3,225.6 L681.8,216.3 L682.3,207.2 L682.8,198.4 L683.3,189.8 L683.8,181.5 L684.3,173.5 L684.8,165.7 L685.3,158.2 L685.8,151.0 L686.3,144.1 L686.8,137.4 L687.3,131.0 L687.8,125.0 L688.3,119.2 L688.8,113.8 L689.3,108.6 L689.8,103.9 L690.3,99.5 L690.8,95.4 L691.3,91.8 L691.8,88.5 L692.3,85.7 L692.8,83.3 L693.3,81.5 L693.8,80.1 L694.3,79.2 L694.8,78.9 L695.3,79.2 L695.8,80.2 L696.3,81.7 L696.8,83.9 L697.3,86.9 L697.8,90.5 L698.3,94.8 L698.8,99.8 L699.3,105.5 L699.8,111.9 L700.3,119.0 L700.8,126.7 L701.3,135.0 L701.8,144.0 L702.3,153.5 L702.8,163.5 L703.3,174.0 L703.8,184.9 L704.3,196.2 L704.8,207.8 L705.3,219.7 L705.8,231.8 L706.3,244.1 L706.8,256.5 L707.3,269.0 L707.8,281.4 L708.3,293.8 L708.8,306.1 L709.3,318.3 L709.8,330.2 L710.3,341.9 L710.8,353.4 L711.3,364.7 L711.8,375.7 L712.3,386.4 L712.8,396.8 L713.3,407.0 L713.8,416.9 L714.3,426.5 L714.8,435.7 L715.3,444.7 L715.8,453.4 L716.3,461.8 L716.8,469.8 L717.3,477.5 L717.8,484.9 L718.3,492.0 L718.8,498.7 L719.3,505.1 L719.8,511.2 L720.3,516.9 L720.8,522.2 L721.3,527.1 L721.8,531.7 L722.3,535.9 L722.8,539.6 L723.3,542.9 L723.8,545.8 L724.3,548.2 L724.8,550.1 L725.3,551.5 L725.8,552.4 L726.3,552.8 L726.8,552.5 L727.3,551.7 L727.8,550.3 L728.3,548.2 L728.8,545.4 L729.3,542.1 L729.8,538.0 L730.3,533.3 L730.8,528.0 L731.3,522.0 L731.8,515.4 L732.3,508.2 L732.8,500.4 L733.3,492.0 L733.8,483.1 L734.3,473.8 L734.8,464.0 L735.3,453.7 L735.8,443.1 L736.3,432.2 L736.8,421.0 L737.3,409.6 L737.8,398.0 L738.3,386.3 L738.8,374.5 L739.3,362.6 L739.8,350.8 L740.3,339.0 L740.8,327.4 L741.3,315.8 L741.8,304.5 L742.3,293.4 L742.8,282.5 L743.3,271.8 L743.8,261.3 L744.3,251.1 L744.8,241.1 L745.3,231.4 L745.8,221.9 L746.3,212.6 L746.8,203.7 L747.3,194.9 L747.8,186.5 L748.3,178.3 L748.8,170.4 L749.3,162.7 L749.8,155.3 L750.3,148.2 L750.8,141.4 L751.3,134.8 L751.8,128.6 L752.3,122.6 L752.8,117.0 L753.3,111.7 L753.8,106.7 L754.3,102.1 L754.8,97.8 L755.3,93.9 L755.8,90.4 L756.3,87.3 L756.8,84.7 L757.3,82.5 L757.8,80.8 L758.3,79.7 L758.8,79.0 L759.3,79.0 L759.8,79.5 L760.3,80.7 L760.8,82.5 L761.3,85.0 L761.8,88.2 L762.3,92.1 L762.8,96.7 L763.3,102.0 L763.8,108.0 L764.3,114.6 L764.8,122.0 L765.3,129.9 L765.8,138.5 L766.3,147.7 L766.8,157.4 L767.3,167.6 L767.8,178.3 L768.3,189.4 L768.8,200.8 L769.3,212.5 L769.8,224.5 L770.3,236.7 L770.8,249.1 L771.3,261.5 L771.8,274.0 L772.3,286.4 L772.8,298.8 L773.3,311.0 L773.8,323.1 L774.3,334.9 L774.8,346.6 L775.3,358.0 L775.8,369.1 L776.3,380.0 L776.8,390.6 L777.3,400.9 L777.8,411.0 L778.3,420.7 L778.8,430.2 L779.3,439.4 L779.8,448.2 L780.3,456.8 L780.8,465.0 L781.3,472.9 L781.8,480.5 L782.3,487.8 L782.8,494.7 L783.3,501.3 L783.8,507.6 L784.3,513.5 L784.8,519.0 L785.3,524.2 L785.8,529.0 L786.3,533.4 L786.8,537.4 L787.3,541.0 L787.8,544.1 L788.3,546.8 L788.8,549.0 L789.3,550.7 L789.8,552.0 L790.3,552.6 L790.8,552.7 L791.3,552.3 L791.8,551.2 L792.3,549.5 L792.8,547.2 L793.3,544.2 L793.8,540.5 L794.3,536.2 L794.8,531.3 L795.3,525.7 L795.8,519.4 L796.3,512.6 L796.8,505.1 L797.3,497.1 L797.8,488.5 L798.3,479.5 L798.8,469.9 L799.3,459.9 L799.8,449.5 L800.3,438.8 L800.8,427.8 L801.3,416.5 L801.8,405.0 L802.3,393.3 L802.8,381.6 L803.3,369.7 L803.8,357.9 L804.3,346.1 L804.8,334.3 L805.3,322.7 L805.8,311.3 L806.3,300.0 L806.8,289.0 L807.3,278.2 L807.8,267.6 L808.3,257.2 L808.8,247.1 L809.3,237.2 L809.8,227.5 L810.3,218.1 L810.8,209.0 L811.3,200.1 L811.8,191.5 L812.3,183.2 L812.8,175.1 L813.3,167.3 L813.8,159.7 L814.3,152.4 L814.8,145.4 L815.3,138.7 L815.8,132.3 L816.3,126.2 L816.8,120.3 L817.3,114.8 L817.8,109.6 L818.3,104.8 L818.8,100.3 L819.3,96.2 L819.8,92.5 L820.3,89.1 L820.8,86.2 L821.3,83.8 L821.8,81.8 L822.3,80.3 L822.8,79.3 L823.3,78.9 L823.8,79.1 L824.3,79.9 L824.8,81.4 L825.3,83.4 L825.8,86.2 L826.3,89.7 L826.8,93.9 L827.3,98.7 L827.8,104.3 L828.3,110.6 L828.8,117.5 L829.3,125.1 L829.8,133.3 L830.3,142.1 L830.8,151.5 L831.3,161.4 L831.8,171.8 L832.3,182.7 L832.8,193.9 L833.3,205.5 L833.8,217.3 L834.3,229.4 L834.8,241.7 L835.3,254.1 L835.8,266.5 L836.3,279.0 L836.8,291.4 L837.3,303.7 L837.8,315.8 L838.3,327.8 L838.8,339.6 L839.3,351.1 L839.8,362.4 L840.3,373.5 L840.8,384.3 L841.3,394.8 L841.8,405.0 L842.3,414.9 L842.8,424.6 L843.3,433.9 L843.8,443.0 L844.3,451.7 L844.8,460.1 L845.3,468.2 L845.8,476.0 L846.3,483.5 L846.8,490.6 L847.3,497.4 L847.8,503.9 L848.3,510.0 L848.8,515.8 L849.3,521.2 L849.8,526.2 L850.3,530.8 L850.8,535.1 L851.3,538.9 L851.8,542.3 L852.3,545.3 L852.8,547.8 L853.3,549.8 L853.8,551.3 L854.3,552.3 L854.8,552.7 L855.3,552.6 L855.8,551.9 L856.3,550.6 L856.8,548.6 L857.3,546.0 L857.8,542.8 L858.3,538.9 L858.8,534.3 L859.3,529.1 L859.8,523.2 L860.3,516.8 L860.8,509.7 L861.3,502.0 L861.8,493.7 L862.3,485.0 L862.8,475.7 L863.3,466.0 L863.8,455.8 L864.3,445.3 L864.8,434.4 L865.3,423.3 L865.8,411.9 L866.3,400.3 L866.8,388.6 L867.3,376.8 L867.8,365.0 L868.3,353.2 L868.8,341.4 L869.3,329.7 L869.8,318.1 L870.3,306.8 L870.8,295.6 L871.3,284.6 L871.8,273.9 L872.3,263.4 L872.8,253.1 L873.3,243.1 L873.8,233.3 L874.3,223.7 L874.8,214.5 L875.3,205.4 L875.8,196.7 L876.3,188.2 L876.8,179.9 L877.3,171.9 L877.8,164.2 L878.3,156.8 L878.8,149.6 L879.3,142.7 L879.8,136.1 L880.3,129.8 L880.8,123.8 L881.3,118.1 L881.8,112.7 L882.3,107.7 L882.8,103.0 L883.3,98.6 L883.8,94.7 L884.3,91.1 L884.8,87.9 L885.3,85.2 L885.8,82.9 L886.3,81.1 L886.8,79.9 L887.3,79.1 L887.8,78.9 L888.3,79.4 L888.8,80.4 L889.3,82.1 L889.8,84.5 L890.3,87.5 L890.8,91.3 L891.3,95.7 L891.8,100.9 L892.3,106.7 L892.8,113.3 L893.3,120.5 L893.8,128.3 L894.3,136.8 L894.8,145.8 L895.3,155.4 L895.8,165.5 L896.3,176.1 L896.8,187.1 L897.3,198.5 L897.8,210.2 L898.3,222.1 L898.8,234.3 L899.3,246.6 L899.8,259.0 L900.3,271.5 L900.8,283.9 L901.3,296.3 L901.8,308.6 L902.3,320.7 L902.8,332.6 L903.3,344.2 L903.8,355.7 L904.3,366.9 L904.8,377.8 L905.3,388.5 L905.8,398.9 L906.3,409.0 L906.8,418.8 L907.3,428.3 L907.8,437.6 L908.3,446.5 L908.8,455.1 L909.3,463.4 L909.8,471.4 L910.3,479.0 L910.8,486.4 L911.3,493.4 L911.8,500.0 L912.3,506.4 L912.8,512.3 L913.3,518.0 L913.8,523.2 L914.3,528.1 L914.8,532.6 L915.3,536.6 L915.8,540.3 L916.3,543.5 L916.8,546.3 L917.3,548.6 L917.8,550.4 L918.3,551.8 L918.8,552.5 L919.3,552.8 L919.8,552.4 L920.3,551.5 L920.8,549.9 L921.3,547.7 L921.8,544.8 L922.3,541.3 L922.8,537.1 L923.3,532.3 L923.8,526.8 L924.3,520.7 L924.8,514.0 L925.3,506.7 L925.8,498.7 L926.3,490.3 L926.8,481.3 L927.3,471.9 L927.8,461.9 L928.3,451.6 L928.8,441.0 L929.3,430.0 L929.8,418.8 L930.3,407.3 L930.8,395.7 L931.3,383.9 L931.8,372.1 L932.3,360.3 L932.8,348.4 L933.3,336.7 L933.8,325.0 L934.3,313.6 L934.8,302.3 L935.3,291.2 L935.8,280.3 L936.3,269.7 L936.8,259.2 L937.3,249.1 L937.8,239.1 L938.3,229.4 L938.8,220.0 L939.3,210.8 L939.8,201.9 L940.3,193.2 L940.8,184.8 L941.3,176.7 L941.8,168.8 L942.3,161.2 L942.8,153.9 L943.3,146.8 L943.8,140.0 L944.3,133.6 L944.8,127.4 L945.3,121.5 L945.8,115.9 L946.3,110.7 L946.8,105.7 L947.3,101.2 L947.8,97.0 L948.3,93.2 L948.8,89.8 L949.3,86.8 L949.8,84.2 L950.3,82.1 L950.8,80.6 L951.3,79.5 L951.8,79.0 L952.3,79.0 L952.8,79.7 L953.3,81.0 L953.8,83.0 L954.3,85.6 L954.8,88.9 L955.3,93.0 L955.8,97.7 L956.3,103.1 L956.8,109.3 L957.3,116.1" fill="none" stroke="#ff0000" stroke-width="7.6" stroke-linecap="round" stroke-linejoin="round"/><path d="M185.8,157.9 L186.3,157.6 L186.8,157.3 L187.3,157.1 L187.8,157.1 L188.3,157.1 L188.8,157.2 L189.3,157.4 L189.8,157.8 L190.3,158.3 L190.8,158.9 L191.3,159.6 L191.8,160.4 L192.3,161.2 L192.8,162.1 L193.3,163.1 L193.8,164.0 L194.3,165.1 L194.8,166.1 L195.3,167.1 L195.8,168.2 L196.3,169.2 L196.8,170.2 L197.3,171.2 L197.8,172.1 L198.3,173.0 L198.8,173.8 L199.3,174.5 L199.8,175.1 L200.3,175.7 L200.8,176.1 L201.3,176.4 L201.8,176.6 L202.3,176.6 L202.8,176.5 L203.3,176.4 L203.8,176.2 L204.3,175.9 L204.8,175.5 L205.3,175.1 L205.8,174.6 L206.3,174.1 L206.8,173.5 L207.3,172.8 L207.8,172.1 L208.3,171.4 L208.8,170.7 L209.3,169.9 L209.8,169.1 L210.3,168.3 L210.8,167.5 L211.3,166.7 L211.8,165.9 L212.3,165.1 L212.8,164.3 L213.3,163.5 L213.8,162.7 L214.3,162.0 L214.8,161.3 L215.3,160.6 L215.8,160.0 L216.3,159.4 L216.8,158.9 L217.3,158.4 L217.8,158.0 L218.3,157.6 L218.8,157.4 L219.3,157.2 L219.8,157.1 L220.3,157.0 L220.8,157.1 L221.3,157.3 L221.8,157.7 L222.3,158.1 L222.8,158.7 L223.3,159.4 L223.8,160.1 L224.3,160.9 L224.8,161.8 L225.3,162.8 L225.8,163.7 L226.3,164.8 L226.8,165.8 L227.3,166.8 L227.8,167.9 L228.3,168.9 L228.8,169.9 L229.3,170.9 L229.8,171.8 L230.3,172.7 L230.8,173.5 L231.3,174.3 L231.8,174.9 L232.3,175.5 L232.8,176.0 L233.3,176.3 L233.8,176.5 L234.3,176.6 L234.8,176.6 L235.3,176.5 L235.8,176.3 L236.3,176.0 L236.8,175.7 L237.3,175.2 L237.8,174.8 L238.3,174.2 L238.8,173.6 L239.3,173.0 L239.8,172.3 L240.3,171.6 L240.8,170.9 L241.3,170.1 L241.8,169.4 L242.3,168.6 L242.8,167.8 L243.3,166.9 L243.8,166.1 L244.3,165.3 L244.8,164.5 L245.3,163.7 L245.8,163.0 L246.3,162.2 L246.8,161.5 L247.3,160.8 L247.8,160.2 L248.3,159.6 L248.8,159.0 L249.3,158.5 L249.8,158.1 L250.3,157.7 L250.8,157.5 L251.3,157.2 L251.8,157.1 L252.3,157.0 L252.8,157.1 L253.3,157.3 L253.8,157.6 L254.3,158.0 L254.8,158.5 L255.3,159.1 L255.8,159.9 L256.3,160.7 L256.8,161.6 L257.3,162.5 L257.8,163.4 L258.3,164.4 L258.8,165.5 L259.3,166.5 L259.8,167.5 L260.3,168.6 L260.8,169.6 L261.3,170.6 L261.8,171.5 L262.3,172.4 L262.8,173.3 L263.3,174.1 L263.8,174.8 L264.3,175.4 L264.8,175.8 L265.3,176.2 L265.8,176.5 L266.3,176.6 L266.8,176.6 L267.3,176.5 L267.8,176.3 L268.3,176.1 L268.8,175.8 L269.3,175.4 L269.8,174.9 L270.3,174.4 L270.8,173.8 L271.3,173.2 L271.8,172.6 L272.3,171.9 L272.8,171.1 L273.3,170.4 L273.8,169.6 L274.3,168.8 L274.8,168.0 L275.3,167.2 L275.8,166.4 L276.3,165.6 L276.8,164.8 L277.3,164.0 L277.8,163.2 L278.3,162.4 L278.8,161.7 L279.3,161.0 L279.8,160.4 L280.3,159.8 L280.8,159.2 L281.3,158.7 L281.8,158.2 L282.3,157.8 L282.8,157.5 L283.3,157.3 L283.8,157.1 L284.3,157.0 L284.8,157.1 L285.3,157.2 L285.8,157.5 L286.3,157.8 L286.8,158.3 L287.3,158.9 L287.8,159.6 L288.3,160.4 L288.8,161.3 L289.3,162.2 L289.8,163.2 L290.3,164.1 L290.8,165.2 L291.3,166.2 L291.8,167.2 L292.3,168.3 L292.8,169.3 L293.3,170.3 L293.8,171.3 L294.3,172.2 L294.8,173.0 L295.3,173.8 L295.8,174.6 L296.3,175.2 L296.8,175.7 L297.3,176.1 L297.8,176.4 L298.3,176.6 L298.8,176.6 L299.3,176.5 L299.8,176.4 L300.3,176.2 L300.8,175.9 L301.3,175.5 L301.8,175.1 L302.3,174.6 L302.8,174.0 L303.3,173.4 L303.8,172.8 L304.3,172.1 L304.8,171.3 L305.3,170.6 L305.8,169.8 L306.3,169.0 L306.8,168.2 L307.3,167.4 L307.8,166.6 L308.3,165.8 L308.8,165.0 L309.3,164.2 L309.8,163.4 L310.3,162.7 L310.8,161.9 L311.3,161.2 L311.8,160.6 L312.3,159.9 L312.8,159.4 L313.3,158.8 L313.8,158.4 L314.3,158.0 L314.8,157.6 L315.3,157.4 L315.8,157.2 L316.3,157.1 L316.8,157.0 L317.3,157.1 L317.8,157.4 L318.3,157.7 L318.8,158.2 L319.3,158.8 L319.8,159.4 L320.3,160.2 L320.8,161.0 L321.3,161.9 L321.8,162.9 L322.3,163.8 L322.8,164.9 L323.3,165.9 L323.8,166.9 L324.3,168.0 L324.8,169.0 L325.3,170.0 L325.8,171.0 L326.3,171.9 L326.8,172.8 L327.3,173.6 L327.8,174.4 L328.3,175.0 L328.8,175.6 L329.3,176.0 L329.8,176.3 L330.3,176.5 L330.8,176.6 L331.3,176.6 L331.8,176.4 L332.3,176.2 L332.8,176.0 L333.3,175.6 L333.8,175.2 L334.3,174.7 L334.8,174.2 L335.3,173.6 L335.8,173.0 L336.3,172.3 L336.8,171.6 L337.3,170.8 L337.8,170.1 L338.3,169.3 L338.8,168.5 L339.3,167.7 L339.8,166.9 L340.3,166.0 L340.8,165.2 L341.3,164.4 L341.8,163.7 L342.3,162.9 L342.8,162.1 L343.3,161.4 L343.8,160.8 L344.3,160.1 L344.8,159.5 L345.3,159.0 L345.8,158.5 L346.3,158.1 L346.8,157.7 L347.3,157.4 L347.8,157.2 L348.3,157.1 L348.8,157.0 L349.3,157.1 L349.8,157.3 L350.3,157.6 L350.8,158.0 L351.3,158.6 L351.8,159.2 L352.3,160.0 L352.8,160.8 L353.3,161.6 L353.8,162.6 L354.3,163.5 L354.8,164.5 L355.3,165.6 L355.8,166.6 L356.3,167.7 L356.8,168.7 L357.3,169.7 L357.8,170.7 L358.3,171.6 L358.8,172.5 L359.3,173.4 L359.8,174.1 L360.3,174.8 L360.8,175.4 L361.3,175.9 L361.8,176.3 L362.3,176.5 L362.8,176.6 L363.3,176.6 L363.8,176.5 L364.3,176.3 L364.8,176.1 L365.3,175.7 L365.8,175.3 L366.3,174.9 L366.8,174.3 L367.3,173.8 L367.8,173.1 L368.3,172.5 L368.8,171.8 L369.3,171.1 L369.8,170.3 L370.3,169.5 L370.8,168.7 L371.3,167.9 L371.8,167.1 L372.3,166.3 L372.8,165.5 L373.3,164.7 L373.8,163.9 L374.3,163.1 L374.8,162.4 L375.3,161.6 L375.8,161.0 L376.3,160.3 L376.8,159.7 L377.3,159.1 L377.8,158.6 L378.3,158.2 L378.8,157.8 L379.3,157.5 L379.8,157.3 L380.3,157.1 L380.8,157.0 L381.3,157.1 L381.8,157.2 L382.3,157.5 L382.8,157.9 L383.3,158.4 L383.8,159.0 L384.3,159.7 L384.8,160.5 L385.3,161.4 L385.8,162.3 L386.3,163.2 L386.8,164.2 L387.3,165.3 L387.8,166.3 L388.3,167.3 L388.8,168.4 L389.3,169.4 L389.8,170.4 L390.3,171.4 L390.8,172.3 L391.3,173.1 L391.8,173.9 L392.3,174.6 L392.8,175.2 L393.3,175.8 L393.8,176.2 L394.3,176.4 L394.8,176.6 L395.3,176.6 L395.8,176.5 L396.3,176.4 L396.8,176.1 L397.3,175.8 L397.8,175.5 L398.3,175.0 L398.8,174.5 L399.3,173.9 L399.8,173.3 L400.3,172.7 L400.8,172.0 L401.3,171.3 L401.8,170.5 L402.3,169.8 L402.8,169.0 L403.3,168.2 L403.8,167.3 L404.3,166.5 L404.8,165.7 L405.3,164.9 L405.8,164.1 L406.3,163.3 L406.8,162.6 L407.3,161.9 L407.8,161.2 L408.3,160.5 L408.8,159.9 L409.3,159.3 L409.8,158.8 L410.3,158.3 L410.8,157.9 L411.3,157.6 L411.8,157.3 L412.3,157.2 L412.8,157.1 L413.3,157.0 L413.8,157.2 L414.3,157.4 L414.8,157.8 L415.3,158.2 L415.8,158.8 L416.3,159.5 L416.8,160.3 L417.3,161.1 L417.8,162.0 L418.3,163.0 L418.8,163.9 L419.3,165.0 L419.8,166.0 L420.3,167.0 L420.8,168.1 L421.3,169.1 L421.8,170.1 L422.3,171.1 L422.8,172.0 L423.3,172.9 L423.8,173.7 L424.3,174.4 L424.8,175.1 L425.3,175.6 L425.8,176.0 L426.3,176.4 L426.8,176.5 L427.3,176.6 L427.8,176.6 L428.3,176.4 L428.8,176.2 L429.3,175.9 L429.8,175.6 L430.3,175.1 L430.8,174.7 L431.3,174.1 L431.8,173.5 L432.3,172.9 L432.8,172.2 L433.3,171.5 L433.8,170.8 L434.3,170.0 L434.8,169.2 L435.3,168.4 L435.8,167.6 L436.3,166.8 L436.8,166.0 L437.3,165.2 L437.8,164.4 L438.3,163.6 L438.8,162.8 L439.3,162.1 L439.8,161.4 L440.3,160.7 L440.8,160.1 L441.3,159.5 L441.8,158.9 L442.3,158.4 L442.8,158.0 L443.3,157.7 L443.8,157.4 L444.3,157.2 L444.8,157.1 L445.3,157.0 L445.8,157.1 L446.3,157.3 L446.8,157.6 L447.3,158.1 L447.8,158.6 L448.3,159.3 L448.8,160.0 L449.3,160.8 L449.8,161.7 L450.3,162.7 L450.8,163.6 L451.3,164.7 L451.8,165.7 L452.3,166.7 L452.8,167.8 L453.3,168.8 L453.8,169.8 L454.3,170.8 L454.8,171.7 L455.3,172.6 L455.8,173.5 L456.3,174.2 L456.8,174.9 L457.3,175.5 L457.8,175.9 L458.3,176.3 L458.8,176.5 L459.3,176.6 L459.8,176.6 L460.3,176.5 L460.8,176.3 L461.3,176.0 L461.8,175.7 L462.3,175.3 L462.8,174.8 L463.3,174.3 L463.8,173.7 L464.3,173.1 L464.8,172.4 L465.3,171.7 L465.8,171.0 L466.3,170.2 L466.8,169.4 L467.3,168.6 L467.8,167.8 L468.3,167.0 L468.8,166.2 L469.3,165.4 L469.8,164.6 L470.3,163.8 L470.8,163.0 L471.3,162.3 L471.8,161.6 L472.3,160.9 L472.8,160.2 L473.3,159.6 L473.8,159.1 L474.3,158.6 L474.8,158.1 L475.3,157.8 L475.8,157.5 L476.3,157.3 L476.8,157.1 L477.3,157.0 L477.8,157.1 L478.3,157.2 L478.8,157.5 L479.3,157.9 L479.8,158.5 L480.3,159.1 L480.8,159.8 L481.3,160.6 L481.8,161.5 L482.3,162.4 L482.8,163.3 L483.3,164.3 L483.8,165.4 L484.3,166.4 L484.8,167.4 L485.3,168.5 L485.8,169.5 L486.3,170.5 L486.8,171.4 L487.3,172.4 L487.8,173.2 L488.3,174.0 L488.8,174.7 L489.3,175.3 L489.8,175.8 L490.3,176.2 L490.8,176.5 L491.3,176.6 L491.8,176.6 L492.3,176.5 L492.8,176.3 L493.3,176.1 L493.8,175.8 L494.3,175.4 L494.8,175.0 L495.3,174.5 L495.8,173.9 L496.3,173.3 L496.8,172.6 L497.3,171.9 L497.8,171.2 L498.3,170.4 L498.8,169.7 L499.3,168.9 L499.8,168.1 L500.3,167.3 L500.8,166.5 L501.3,165.6 L501.8,164.8 L502.3,164.0 L502.8,163.3 L503.3,162.5 L503.8,161.8 L504.3,161.1 L504.8,160.4 L505.3,159.8 L505.8,159.2 L506.3,158.7 L506.8,158.3 L507.3,157.9 L507.8,157.6 L508.3,157.3 L508.8,157.1 L509.3,157.1 L509.8,157.1 L510.3,157.2 L510.8,157.4 L511.3,157.8 L511.8,158.3 L512.3,158.9 L512.8,159.6 L513.3,160.4 L513.8,161.2 L514.3,162.1 L514.8,163.1 L515.3,164.0 L515.8,165.1 L516.3,166.1 L516.8,167.1 L517.3,168.2 L517.8,169.2 L518.3,170.2 L518.8,171.2 L519.3,172.1 L519.8,173.0 L520.3,173.8 L520.8,174.5 L521.3,175.1 L521.8,175.7 L522.3,176.1 L522.8,176.4 L523.3,176.6 L523.8,176.6 L524.3,176.5 L524.8,176.4 L525.3,176.2 L525.8,175.9 L526.3,175.5 L526.8,175.1 L527.3,174.6 L527.8,174.1 L528.3,173.5 L528.8,172.8 L529.3,172.1 L529.8,171.4 L530.3,170.7 L530.8,169.9 L531.3,169.1 L531.8,168.3 L532.3,167.5 L532.8,166.7 L533.3,165.9 L533.8,165.1 L534.3,164.3 L534.8,163.5 L535.3,162.7 L535.8,162.0 L536.3,161.3 L536.8,160.6 L537.3,160.0 L537.8,159.4 L538.3,158.9 L538.8,158.4 L539.3,158.0 L539.8,157.6 L540.3,157.4 L540.8,157.2 L541.3,157.1 L541.8,157.0 L542.3,157.1 L542.8,157.3 L543.3,157.7 L543.8,158.1 L544.3,158.7 L544.8,159.4 L545.3,160.1 L545.8,160.9 L546.3,161.8 L546.8,162.8 L547.3,163.7 L547.8,164.8 L548.3,165.8 L548.8,166.8 L549.3,167.9 L549.8,168.9 L550.3,169.9 L550.8,170.9 L551.3,171.8 L551.8,172.7 L552.3,173.5 L552.8,174.3 L553.3,174.9 L553.8,175.5 L554.3,176.0 L554.8,176.3 L555.3,176.5 L555.8,176.6 L556.3,176.6 L556.8,176.5 L557.3,176.3 L557.8,176.0 L558.3,175.7 L558.8,175.2 L559.3,174.8 L559.8,174.2 L560.3,173.6 L560.8,173.0 L561.3,172.3 L561.8,171.6 L562.3,170.9 L562.8,170.1 L563.3,169.4 L563.8,168.6 L564.3,167.8 L564.8,166.9 L565.3,166.1 L565.8,165.3 L566.3,164.5 L566.8,163.7 L567.3,163.0 L567.8,162.2 L568.3,161.5 L568.8,160.8 L569.3,160.2 L569.8,159.6 L570.3,159.0 L570.8,158.5 L571.3,158.1 L571.8,157.7 L572.3,157.5 L572.8,157.2 L573.3,157.1 L573.8,157.0 L574.3,157.1 L574.8,157.3 L575.3,157.6 L575.8,158.0 L576.3,158.5 L576.8,159.1 L577.3,159.9 L577.8,160.7 L578.3,161.6 L578.8,162.5 L579.3,163.4 L579.8,164.4 L580.3,165.5 L580.8,166.5 L581.3,167.5 L581.8,168.6 L582.3,169.6 L582.8,170.6 L583.3,171.5 L583.8,172.4 L584.3,173.3 L584.8,174.1 L585.3,174.8 L585.8,175.4 L586.3,175.8 L586.8,176.2 L587.3,176.5 L587.8,176.6 L588.3,176.6 L588.8,176.5 L589.3,176.3 L589.8,176.1 L590.3,175.8 L590.8,175.4 L591.3,174.9 L591.8,174.4 L592.3,173.8 L592.8,173.2 L593.3,172.6 L593.8,171.9 L594.3,171.1 L594.8,170.4 L595.3,169.6 L595.8,168.8 L596.3,168.0 L596.8,167.2 L597.3,166.4 L597.8,165.6 L598.3,164.8 L598.8,164.0 L599.3,163.2 L599.8,162.4 L600.3,161.7 L600.8,161.0 L601.3,160.4 L601.8,159.8 L602.3,159.2 L602.8,158.7 L603.3,158.2 L603.8,157.8 L604.3,157.5 L604.8,157.3 L605.3,157.1 L605.8,157.0 L606.3,157.1 L606.8,157.2 L607.3,157.5 L607.8,157.8 L608.3,158.3 L608.8,158.9 L609.3,159.6 L609.8,160.4 L610.3,161.3 L610.8,162.2 L611.3,163.2 L611.8,164.1 L612.3,165.2 L612.8,166.2 L613.3,167.2 L613.8,168.3 L614.3,169.3 L614.8,170.3 L615.3,171.3 L615.8,172.2 L616.3,173.0 L616.8,173.8 L617.3,174.6 L617.8,175.2 L618.3,175.7 L618.8,176.1 L619.3,176.4 L619.8,176.6 L620.3,176.6 L620.8,176.5 L621.3,176.4 L621.8,176.2 L622.3,175.9 L622.8,175.5 L623.3,175.1 L623.8,174.6 L624.3,174.0 L624.8,173.4 L625.3,172.8 L625.8,172.1 L626.3,171.3 L626.8,170.6 L627.3,169.8 L627.8,169.0 L628.3,168.2 L628.8,167.4 L629.3,166.6 L629.8,165.8 L630.3,165.0 L630.8,164.2 L631.3,163.4 L631.8,162.7 L632.3,161.9 L632.8,161.2 L633.3,160.6 L633.8,159.9 L634.3,159.4 L634.8,158.8 L635.3,158.4 L635.8,158.0 L636.3,157.6 L636.8,157.4 L637.3,157.2 L637.8,157.1 L638.3,157.0 L638.8,157.1 L639.3,157.4 L639.8,157.7 L640.3,158.2 L640.8,158.8 L641.3,159.4 L641.8,160.2 L642.3,161.0 L642.8,161.9 L643.3,162.9 L643.8,163.8 L644.3,164.9 L644.8,165.9 L645.3,166.9 L645.8,168.0 L646.3,169.0 L646.8,170.0 L647.3,171.0 L647.8,171.9 L648.3,172.8 L648.8,173.6 L649.3,174.4 L649.8,175.0 L650.3,175.6 L650.8,176.0 L651.3,176.3 L651.8,176.5 L652.3,176.6 L652.8,176.6 L653.3,176.4 L653.8,176.2 L654.3,176.0 L654.8,175.6 L655.3,175.2 L655.8,174.7 L656.3,174.2 L656.8,173.6 L657.3,173.0 L657.8,172.3 L658.3,171.6 L658.8,170.8 L659.3,170.1 L659.8,169.3 L660.3,168.5 L660.8,167.7 L661.3,166.9 L661.8,166.0 L662.3,165.2 L662.8,164.4 L663.3,163.7 L663.8,162.9 L664.3,162.1 L664.8,161.4 L665.3,160.8 L665.8,160.1 L666.3,159.5 L666.8,159.0 L667.3,158.5 L667.8,158.1 L668.3,157.7 L668.8,157.4 L669.3,157.2 L669.8,157.1 L670.3,157.0 L670.8,157.1 L671.3,157.3 L671.8,157.6 L672.3,158.0 L672.8,158.6 L673.3,159.2 L673.8,160.0 L674.3,160.8 L674.8,161.6 L675.3,162.6 L675.8,163.5 L676.3,164.5 L676.8,165.6 L677.3,166.6 L677.8,167.7 L678.3,168.7 L678.8,169.7 L679.3,170.7 L679.8,171.6 L680.3,172.5 L680.8,173.4 L681.3,174.1 L681.8,174.8 L682.3,175.4 L682.8,175.9 L683.3,176.3 L683.8,176.5 L684.3,176.6 L684.8,176.6 L685.3,176.5 L685.8,176.3 L686.3,176.1 L686.8,175.7 L687.3,175.3 L687.8,174.9 L688.3,174.3 L688.8,173.8 L689.3,173.1 L689.8,172.5 L690.3,171.8 L690.8,171.1 L691.3,170.3 L691.8,169.5 L692.3,168.7 L692.8,167.9 L693.3,167.1 L693.8,166.3 L694.3,165.5 L694.8,164.7 L695.3,163.9 L695.8,163.1 L696.3,162.4 L696.8,161.6 L697.3,161.0 L697.8,160.3 L698.3,159.7 L698.8,159.1 L699.3,158.6 L699.8,158.2 L700.3,157.8 L700.8,157.5 L701.3,157.3 L701.8,157.1 L702.3,157.0 L702.8,157.1 L703.3,157.2 L703.8,157.5 L704.3,157.9 L704.8,158.4 L705.3,159.0 L705.8,159.7 L706.3,160.5 L706.8,161.4 L707.3,162.3 L707.8,163.2 L708.3,164.2 L708.8,165.3 L709.3,166.3 L709.8,167.3 L710.3,168.4 L710.8,169.4 L711.3,170.4 L711.8,171.4 L712.3,172.3 L712.8,173.1 L713.3,173.9 L713.8,174.6 L714.3,175.2 L714.8,175.8 L715.3,176.2 L715.8,176.4 L716.3,176.6 L716.8,176.6 L717.3,176.5 L717.8,176.4 L718.3,176.1 L718.8,175.8 L719.3,175.5 L719.8,175.0 L720.3,174.5 L720.8,173.9 L721.3,173.3 L721.8,172.7 L722.3,172.0 L722.8,171.3 L723.3,170.5 L723.8,169.8 L724.3,169.0 L724.8,168.2 L725.3,167.3 L725.8,166.5 L726.3,165.7 L726.8,164.9 L727.3,164.1 L727.8,163.3 L728.3,162.6 L728.8,161.9 L729.3,161.2 L729.8,160.5 L730.3,159.9 L730.8,159.3 L731.3,158.8 L731.8,158.3 L732.3,157.9 L732.8,157.6 L733.3,157.3 L733.8,157.2 L734.3,157.1 L734.8,157.0 L735.3,157.2 L735.8,157.4 L736.3,157.8 L736.8,158.2 L737.3,158.8 L737.8,159.5 L738.3,160.3 L738.8,161.1 L739.3,162.0 L739.8,163.0 L740.3,163.9 L740.8,165.0 L741.3,166.0 L741.8,167.0 L742.3,168.1 L742.8,169.1 L743.3,170.1 L743.8,171.1 L744.3,172.0 L744.8,172.9 L745.3,173.7 L745.8,174.4 L746.3,175.1 L746.8,175.6 L747.3,176.0 L747.8,176.4 L748.3,176.5 L748.8,176.6 L749.3,176.6 L749.8,176.4 L750.3,176.2 L750.8,175.9 L751.3,175.6 L751.8,175.1 L752.3,174.7 L752.8,174.1 L753.3,173.5 L753.8,172.9 L754.3,172.2 L754.8,171.5 L755.3,170.8 L755.8,170.0 L756.3,169.2 L756.8,168.4 L757.3,167.6 L757.8,166.8 L758.3,166.0 L758.8,165.2 L759.3,164.4 L759.8,163.6 L760.3,162.8 L760.8,162.1 L761.3,161.4 L761.8,160.7 L762.3,160.1 L762.8,159.5 L763.3,158.9 L763.8,158.4 L764.3,158.0 L764.8,157.7 L765.3,157.4 L765.8,157.2 L766.3,157.1 L766.8,157.0 L767.3,157.1 L767.8,157.3 L768.3,157.6 L768.8,158.1 L769.3,158.6 L769.8,159.3 L770.3,160.0 L770.8,160.8 L771.3,161.7 L771.8,162.7 L772.3,163.6 L772.8,164.7 L773.3,165.7 L773.8,166.7 L774.3,167.8 L774.8,168.8 L775.3,169.8 L775.8,170.8 L776.3,171.7 L776.8,172.6 L777.3,173.5 L777.8,174.2 L778.3,174.9 L778.8,175.5 L779.3,175.9 L779.8,176.3 L780.3,176.5 L780.8,176.6 L781.3,176.6 L781.8,176.5 L782.3,176.3 L782.8,176.0 L783.3,175.7 L783.8,175.3 L784.3,174.8 L784.8,174.3 L785.3,173.7 L785.8,173.1 L786.3,172.4 L786.8,171.7 L787.3,171.0 L787.8,170.2 L788.3,169.4 L788.8,168.6 L789.3,167.8 L789.8,167.0 L790.3,166.2 L790.8,165.4 L791.3,164.6 L791.8,163.8 L792.3,163.0 L792.8,162.3 L793.3,161.6 L793.8,160.9 L794.3,160.2 L794.8,159.6 L795.3,159.1 L795.8,158.6 L796.3,158.1 L796.8,157.8 L797.3,157.5 L797.8,157.3 L798.3,157.1 L798.8,157.0 L799.3,157.1 L799.8,157.2 L800.3,157.5 L800.8,157.9 L801.3,158.5 L801.8,159.1 L802.3,159.8 L802.8,160.6 L803.3,161.5 L803.8,162.4 L804.3,163.3 L804.8,164.3 L805.3,165.4 L805.8,166.4 L806.3,167.4 L806.8,168.5 L807.3,169.5 L807.8,170.5 L808.3,171.4 L808.8,172.4 L809.3,173.2 L809.8,174.0 L810.3,174.7 L810.8,175.3 L811.3,175.8 L811.8,176.2 L812.3,176.5 L812.8,176.6 L813.3,176.6 L813.8,176.5 L814.3,176.3 L814.8,176.1 L815.3,175.8 L815.8,175.4 L816.3,175.0 L816.8,174.5 L817.3,173.9 L817.8,173.3 L818.3,172.6 L818.8,171.9 L819.3,171.2 L819.8,170.4 L820.3,169.7 L820.8,168.9 L821.3,168.1 L821.8,167.3 L822.3,166.5 L822.8,165.6 L823.3,164.8 L823.8,164.0 L824.3,163.3 L824.8,162.5 L825.3,161.8 L825.8,161.1 L826.3,160.4 L826.8,159.8 L827.3,159.2 L827.8,158.7 L828.3,158.3 L828.8,157.9 L829.3,157.6 L829.8,157.3 L830.3,157.1 L830.8,157.1 L831.3,157.1 L831.8,157.2 L832.3,157.4 L832.8,157.8 L833.3,158.3 L833.8,158.9 L834.3,159.6 L834.8,160.4 L835.3,161.2 L835.8,162.1 L836.3,163.1 L836.8,164.0 L837.3,165.1 L837.8,166.1 L838.3,167.1 L838.8,168.2 L839.3,169.2 L839.8,170.2 L840.3,171.2 L840.8,172.1 L841.3,173.0 L841.8,173.8 L842.3,174.5 L842.8,175.1 L843.3,175.7 L843.8,176.1 L844.3,176.4 L844.8,176.6 L845.3,176.6 L845.8,176.5 L846.3,176.4 L846.8,176.2 L847.3,175.9 L847.8,175.5 L848.3,175.1 L848.8,174.6 L849.3,174.1 L849.8,173.5 L850.3,172.8 L850.8,172.1 L851.3,171.4 L851.8,170.7 L852.3,169.9 L852.8,169.1 L853.3,168.3 L853.8,167.5 L854.3,166.7 L854.8,165.9 L855.3,165.1 L855.8,164.3 L856.3,163.5 L856.8,162.7 L857.3,162.0 L857.8,161.3 L858.3,160.6 L858.8,160.0 L859.3,159.4 L859.8,158.9 L860.3,158.4 L860.8,158.0 L861.3,157.6 L861.8,157.4 L862.3,157.2 L862.8,157.1 L863.3,157.0 L863.8,157.1 L864.3,157.3 L864.8,157.7 L865.3,158.1 L865.8,158.7 L866.3,159.4 L866.8,160.1 L867.3,160.9 L867.8,161.8 L868.3,162.8 L868.8,163.7 L869.3,164.8 L869.8,165.8 L870.3,166.8 L870.8,167.9 L871.3,168.9 L871.8,169.9 L872.3,170.9 L872.8,171.8 L873.3,172.7 L873.8,173.5 L874.3,174.3 L874.8,174.9 L875.3,175.5 L875.8,176.0 L876.3,176.3 L876.8,176.5 L877.3,176.6 L877.8,176.6 L878.3,176.5 L878.8,176.3 L879.3,176.0 L879.8,175.7 L880.3,175.2 L880.8,174.8 L881.3,174.2 L881.8,173.6 L882.3,173.0 L882.8,172.3 L883.3,171.6 L883.8,170.9 L884.3,170.1 L884.8,169.4 L885.3,168.6 L885.8,167.8 L886.3,166.9 L886.8,166.1 L887.3,165.3 L887.8,164.5 L888.3,163.7 L888.8,163.0 L889.3,162.2 L889.8,161.5 L890.3,160.8 L890.8,160.2 L891.3,159.6 L891.8,159.0 L892.3,158.5 L892.8,158.1 L893.3,157.7 L893.8,157.5 L894.3,157.2 L894.8,157.1 L895.3,157.0 L895.8,157.1 L896.3,157.3 L896.8,157.6 L897.3,158.0 L897.8,158.5 L898.3,159.1 L898.8,159.9 L899.3,160.7 L899.8,161.6 L900.3,162.5 L900.8,163.4 L901.3,164.4 L901.8,165.5 L902.3,166.5 L902.8,167.5 L903.3,168.6 L903.8,169.6 L904.3,170.6 L904.8,171.5 L905.3,172.4 L905.8,173.3 L906.3,174.1 L906.8,174.8 L907.3,175.4 L907.8,175.8 L908.3,176.2 L908.8,176.5 L909.3,176.6 L909.8,176.6 L910.3,176.5 L910.8,176.3 L911.3,176.1 L911.8,175.8 L912.3,175.4 L912.8,174.9 L913.3,174.4 L913.8,173.8 L914.3,173.2 L914.8,172.6 L915.3,171.9 L915.8,171.1 L916.3,170.4 L916.8,169.6 L917.3,168.8 L917.8,168.0 L918.3,167.2 L918.8,166.4 L919.3,165.6 L919.8,164.8 L920.3,164.0 L920.8,163.2 L921.3,162.4 L921.8,161.7 L922.3,161.0 L922.8,160.4 L923.3,159.8 L923.8,159.2 L924.3,158.7 L924.8,158.2 L925.3,157.8 L925.8,157.5 L926.3,157.3 L926.8,157.1 L927.3,157.0 L927.8,157.1 L928.3,157.2 L928.8,157.5 L929.3,157.8 L929.8,158.3 L930.3,158.9 L930.8,159.6 L931.3,160.4 L931.8,161.3 L932.3,162.2 L932.8,163.2 L933.3,164.1 L933.8,165.2 L934.3,166.2 L934.8,167.2 L935.3,168.3 L935.8,169.3 L936.3,170.3 L936.8,171.3 L937.3,172.2 L937.8,173.0 L938.3,173.8 L938.8,174.6 L939.3,175.2 L939.8,175.7 L940.3,176.1 L940.8,176.4 L941.3,176.6 L941.8,176.6 L942.3,176.5 L942.8,176.4 L943.3,176.2 L943.8,175.9 L944.3,175.5 L944.8,175.1 L945.3,174.6 L945.8,174.0 L946.3,173.4 L946.8,172.8 L947.3,172.1 L947.8,171.3 L948.3,170.6 L948.8,169.8 L949.3,169.0 L949.8,168.2 L950.3,167.4 L950.8,166.6 L951.3,165.8 L951.8,165.0 L952.3,164.2 L952.8,163.4 L953.3,162.7 L953.8,161.9 L954.3,161.2 L954.8,160.6 L955.3,159.9 L955.8,159.4 L956.3,158.8 L956.8,158.4 L957.3,158.0" fill="none" stroke="#ff00ff" stroke-width="8.2" stroke-linecap="round" stroke-linejoin="round"/></g>
<g><path d="M134.0,25.35 L134.0,675.45" fill="none" stroke="#000" stroke-width="5.7" stroke-linecap="butt"/><path d="M134.0,675.45 L1009.0,675.45" fill="none" stroke="#000" stroke-width="5.7" stroke-linecap="round"/><line x1="127.8" y1="675.48" x2="132.5" y2="675.48" stroke="#000" stroke-width="5.6" stroke-linecap="round"/><line x1="121.4" y1="603.55" x2="132.5" y2="603.55" stroke="#000" stroke-width="5.6" stroke-linecap="round"/><line x1="127.8" y1="531.62" x2="132.5" y2="531.62" stroke="#000" stroke-width="5.6" stroke-linecap="round"/><line x1="121.4" y1="459.70" x2="132.5" y2="459.70" stroke="#000" stroke-width="5.6" stroke-linecap="round"/><line x1="127.8" y1="387.78" x2="132.5" y2="387.78" stroke="#000" stroke-width="5.6" stroke-linecap="round"/><line x1="121.4" y1="315.85" x2="132.5" y2="315.85" stroke="#000" stroke-width="5.6" stroke-linecap="round"/><line x1="127.8" y1="243.93" x2="132.5" y2="243.93" stroke="#000" stroke-width="5.6" stroke-linecap="round"/><line x1="121.4" y1="172.00" x2="132.5" y2="172.00" stroke="#000" stroke-width="5.6" stroke-linecap="round"/><line x1="127.8" y1="100.08" x2="132.5" y2="100.08" stroke="#000" stroke-width="5.6" stroke-linecap="round"/><line x1="121.4" y1="28.15" x2="132.5" y2="28.15" stroke="#000" stroke-width="5.6" stroke-linecap="round"/><line x1="134.00" y1="676.95" x2="134.00" y2="688.0" stroke="#000" stroke-width="5.3999999999999995" stroke-linecap="round"/><line x1="236.95" y1="676.95" x2="236.95" y2="681.6" stroke="#000" stroke-width="5.3999999999999995" stroke-linecap="round"/><line x1="339.90" y1="676.95" x2="339.90" y2="688.0" stroke="#000" stroke-width="5.3999999999999995" stroke-linecap="round"/><line x1="442.85" y1="676.95" x2="442.85" y2="681.6" stroke="#000" stroke-width="5.3999999999999995" stroke-linecap="round"/><line x1="545.80" y1="676.95" x2="545.80" y2="688.0" stroke="#000" stroke-width="5.3999999999999995" stroke-linecap="round"/><line x1="648.75" y1="676.95" x2="648.75" y2="681.6" stroke="#000" stroke-width="5.3999999999999995" stroke-linecap="round"/><line x1="751.70" y1="676.95" x2="751.70" y2="688.0" stroke="#000" stroke-width="5.3999999999999995" stroke-linecap="round"/><line x1="854.65" y1="676.95" x2="854.65" y2="681.6" stroke="#000" stroke-width="5.3999999999999995" stroke-linecap="round"/><line x1="957.60" y1="676.95" x2="957.60" y2="688.0" stroke="#000" stroke-width="5.3999999999999995" stroke-linecap="round"/></g>
<g><line x1="320.8" y1="611.75" x2="396.95" y2="611.75" stroke="#0000ff" stroke-width="8.6" stroke-linecap="round"/><text transform="translate(405.3,623.4) scale(0.955,1)" class="lg"><tspan class="it" style="font-size:33px">i</tspan><tspan class="sub" dx="0.8" dy="13.2">L1</tspan><tspan dy="-13.2">(t)</tspan></text><line x1="496.3" y1="611.75" x2="572.45" y2="611.75" stroke="#ff0000" stroke-width="8.6" stroke-linecap="round"/><text transform="translate(580.8,623.4) scale(0.955,1)" class="lg"><tspan class="it" style="font-size:33px">i</tspan><tspan class="sub" dx="0.8" dy="13.2">L2</tspan><tspan dy="-13.2">(t)</tspan></text><line x1="671.5" y1="611.75" x2="747.6500000000001" y2="611.75" stroke="#ff00ff" stroke-width="8.6" stroke-linecap="round"/><text transform="translate(756.0,623.4) scale(0.955,1)" class="lg"><tspan class="it" style="font-size:36px">I</tspan><tspan class="sub" dx="0" dy="13.2">C</tspan><tspan dy="-13.2">(t)</tspan></text></g>
<g><text transform="translate(112.8,38.65) scale(0.96,1)" text-anchor="end" class="tk">20</text><text transform="translate(112.8,182.50) scale(0.96,1)" text-anchor="end" class="tk">10</text><text transform="translate(112.8,326.35) scale(0.96,1)" text-anchor="end" class="tk">0</text><text transform="translate(112.8,470.20) scale(0.96,1)" text-anchor="end" class="tk">-<tspan dx="-1.4">10</tspan></text><text transform="translate(112.8,614.05) scale(0.96,1)" text-anchor="end" class="tk">-<tspan dx="-1.4">20</tspan></text><text transform="translate(133.80,723.9) scale(0.935,1)" text-anchor="middle" class="tk">0.00984</text><text transform="translate(339.70,723.9) scale(0.935,1)" text-anchor="middle" class="tk">0.00988</text><text transform="translate(545.60,723.9) scale(0.935,1)" text-anchor="middle" class="tk">0.00992</text><text transform="translate(751.50,723.9) scale(0.935,1)" text-anchor="middle" class="tk">0.00996</text><text transform="translate(957.40,723.9) scale(0.935,1)" text-anchor="middle" class="tk">0.01000</text><text x="572.9" y="773.8" text-anchor="middle" class="ttl">Time (s)</text><text transform="translate(40.4,357.8) rotate(-90) scale(0.9727,1)" text-anchor="middle" class="ttl" style="font-size:42.8px">Current (A)</text></g>
</svg>
</body></html>
